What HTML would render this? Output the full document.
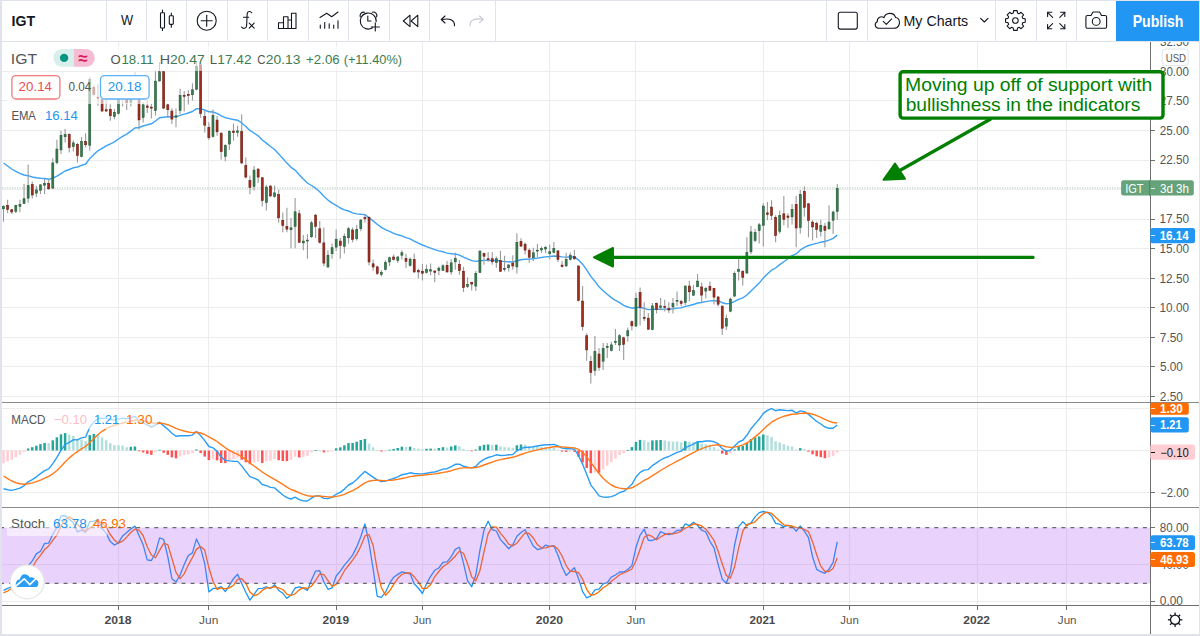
<!DOCTYPE html>
<html><head><meta charset="utf-8"><title>IGT chart</title>
<style>
html,body{margin:0;padding:0;background:#e0e3eb;}
body{width:1200px;height:636px;overflow:hidden;position:relative;font-family:"Liberation Sans",Arial,sans-serif;}
svg{position:absolute;left:0;top:0;}
text{font-family:"Liberation Sans",Arial,sans-serif;}
</style></head><body>
<svg width="1200" height="636" viewBox="0 0 1200 636">
<rect x="0" y="0" width="1200" height="636" fill="#e0e3eb"/>
<rect x="2" y="1" width="1197" height="633" fill="#ffffff"/>

<g shape-rendering="crispEdges">
<line x1="118.5" y1="41" x2="118.5" y2="605" stroke="#ececec" stroke-width="1"/>
<line x1="208.5" y1="41" x2="208.5" y2="605" stroke="#ececec" stroke-width="1"/>
<line x1="336.5" y1="41" x2="336.5" y2="605" stroke="#ececec" stroke-width="1"/>
<line x1="422.5" y1="41" x2="422.5" y2="605" stroke="#ececec" stroke-width="1"/>
<line x1="549.5" y1="41" x2="549.5" y2="605" stroke="#ececec" stroke-width="1"/>
<line x1="635.5" y1="41" x2="635.5" y2="605" stroke="#ececec" stroke-width="1"/>
<line x1="763.5" y1="41" x2="763.5" y2="605" stroke="#ececec" stroke-width="1"/>
<line x1="849.5" y1="41" x2="849.5" y2="605" stroke="#ececec" stroke-width="1"/>
<line x1="977.5" y1="41" x2="977.5" y2="605" stroke="#ececec" stroke-width="1"/>
<line x1="1066.5" y1="41" x2="1066.5" y2="605" stroke="#ececec" stroke-width="1"/>
<line x1="2" y1="41.5" x2="1149" y2="41.5" stroke="#ececec" stroke-width="1"/>
<line x1="2" y1="71.5" x2="1149" y2="71.5" stroke="#ececec" stroke-width="1"/>
<line x1="2" y1="100.5" x2="1149" y2="100.5" stroke="#ececec" stroke-width="1"/>
<line x1="2" y1="130.5" x2="1149" y2="130.5" stroke="#ececec" stroke-width="1"/>
<line x1="2" y1="160.5" x2="1149" y2="160.5" stroke="#ececec" stroke-width="1"/>
<line x1="2" y1="189.5" x2="1149" y2="189.5" stroke="#ececec" stroke-width="1"/>
<line x1="2" y1="219.5" x2="1149" y2="219.5" stroke="#ececec" stroke-width="1"/>
<line x1="2" y1="248.5" x2="1149" y2="248.5" stroke="#ececec" stroke-width="1"/>
<line x1="2" y1="278.5" x2="1149" y2="278.5" stroke="#ececec" stroke-width="1"/>
<line x1="2" y1="307.5" x2="1149" y2="307.5" stroke="#ececec" stroke-width="1"/>
<line x1="2" y1="337.5" x2="1149" y2="337.5" stroke="#ececec" stroke-width="1"/>
<line x1="2" y1="366.5" x2="1149" y2="366.5" stroke="#ececec" stroke-width="1"/>
<line x1="2" y1="396.5" x2="1149" y2="396.5" stroke="#ececec" stroke-width="1"/>
<line x1="2" y1="408.5" x2="1149" y2="408.5" stroke="#ececec" stroke-width="1"/>
<line x1="2" y1="450.5" x2="1149" y2="450.5" stroke="#ececec" stroke-width="1"/>
<line x1="2" y1="492.5" x2="1149" y2="492.5" stroke="#ececec" stroke-width="1"/>
<line x1="2" y1="564.5" x2="1149" y2="564.5" stroke="#ececec" stroke-width="1"/>
<line x1="2" y1="601.5" x2="1149" y2="601.5" stroke="#ececec" stroke-width="1"/>
</g>
<line x1="2" y1="188" x2="1122" y2="188" stroke="#5e9c74" stroke-width="1.2" stroke-dasharray="1.2,1.3" opacity="0.55"/>
<polyline points="3.5,163.0 7.6,166.0 11.7,169.0 15.8,171.3 19.9,173.4 24.0,175.0 28.1,175.7 32.3,177.0 36.4,177.8 40.5,178.2 44.6,178.5 48.7,179.2 52.8,178.1 56.9,176.2 61.0,173.6 65.1,171.0 69.2,169.5 73.3,167.8 77.4,167.0 81.5,165.4 85.6,164.0 89.8,158.6 93.9,154.4 98.0,150.8 102.1,148.3 106.2,145.9 110.3,144.0 114.4,141.9 118.5,139.0 122.6,136.3 126.7,134.1 130.8,131.1 134.9,128.0 139.0,127.5 143.1,126.0 147.2,124.8 151.4,123.8 155.5,121.0 159.6,117.8 163.7,117.2 167.8,116.7 171.9,116.9 176.0,116.8 180.1,115.4 184.2,114.2 188.3,113.0 192.4,111.5 196.5,108.6 200.6,108.9 204.7,110.0 208.9,111.8 213.0,112.0 217.1,113.3 221.2,115.8 225.3,117.7 229.4,118.6 233.5,119.5 237.6,120.2 241.7,123.0 245.8,126.5 249.9,130.4 254.0,133.0 258.1,135.8 262.2,140.0 266.4,143.1 270.5,146.5 274.6,149.5 278.7,153.9 282.8,158.5 286.9,163.1 291.0,167.3 295.1,170.1 299.2,174.8 303.3,179.0 307.4,183.0 311.5,185.5 315.6,188.2 319.7,191.7 323.9,196.3 328.0,200.1 332.1,203.1 336.2,205.4 340.3,208.0 344.4,209.9 348.5,211.0 352.6,212.9 356.7,213.9 360.8,214.3 364.9,214.6 369.0,217.7 373.1,220.9 377.2,224.3 381.3,227.4 385.5,229.6 389.6,231.4 393.7,233.3 397.8,234.8 401.9,235.9 406.0,237.6 410.1,238.9 414.2,241.1 418.3,243.1 422.4,245.0 426.5,246.6 430.6,248.1 434.7,249.7 438.8,250.9 443.0,251.8 447.1,253.1 451.2,253.7 455.3,254.0 459.4,255.1 463.5,257.2 467.6,258.9 471.7,260.6 475.8,261.4 479.9,260.7 484.0,260.4 488.1,260.4 492.2,260.5 496.3,260.4 500.5,261.1 504.6,261.6 508.7,261.8 512.8,262.0 516.9,260.8 521.0,259.8 525.1,259.2 529.2,259.1 533.3,258.7 537.4,258.1 541.5,257.5 545.6,256.9 549.7,256.5 553.8,256.0 557.9,256.3 562.1,256.9 566.2,257.1 570.3,256.9 574.4,257.1 578.5,259.9 582.6,264.2 586.7,269.8 590.8,276.4 594.9,281.2 599.0,286.8 603.1,290.8 607.2,294.3 611.3,297.6 615.4,300.4 619.6,302.6 623.7,305.3 627.8,307.0 631.9,308.2 636.0,307.5 640.1,307.5 644.2,308.3 648.3,309.6 652.4,309.4 656.5,309.4 660.6,309.2 664.7,309.1 668.8,309.1 672.9,308.7 677.1,308.1 681.2,307.9 685.3,306.4 689.4,305.5 693.5,304.5 697.6,303.0 701.7,302.5 705.8,301.6 709.9,300.9 714.0,300.6 718.1,300.9 722.2,302.7 726.3,303.7 730.4,303.4 734.6,301.4 738.7,299.3 742.8,297.9 746.9,295.0 751.0,290.9 755.1,287.1 759.2,283.1 763.3,278.1 767.4,274.0 771.5,270.2 775.6,268.0 779.7,264.6 783.8,261.7 787.9,258.8 792.0,255.6 796.2,253.9 800.3,250.0 804.4,247.3 808.5,245.5 812.6,244.4 816.7,243.4 820.8,242.2 824.9,241.5 829.0,240.2 833.1,238.4 837.2,235.1" fill="none" stroke="#3ea2f5" stroke-width="1.4" stroke-linejoin="round"/>
<g>
<line x1="3.50" y1="205.3" x2="3.50" y2="221.7" stroke="#9a9a9a" stroke-width="1.1"/>
<line x1="7.61" y1="199.7" x2="7.61" y2="212.9" stroke="#9a9a9a" stroke-width="1.1"/>
<line x1="11.72" y1="209.0" x2="11.72" y2="213.9" stroke="#9a9a9a" stroke-width="1.1"/>
<line x1="15.82" y1="204.7" x2="15.82" y2="212.9" stroke="#9a9a9a" stroke-width="1.1"/>
<line x1="19.93" y1="199.7" x2="19.93" y2="212.3" stroke="#9a9a9a" stroke-width="1.1"/>
<line x1="24.04" y1="184.0" x2="24.04" y2="204.0" stroke="#9a9a9a" stroke-width="1.1"/>
<line x1="28.15" y1="164.5" x2="28.15" y2="202.8" stroke="#9a9a9a" stroke-width="1.1"/>
<line x1="32.25" y1="181.4" x2="32.25" y2="198.4" stroke="#9a9a9a" stroke-width="1.1"/>
<line x1="36.36" y1="185.8" x2="36.36" y2="197.2" stroke="#9a9a9a" stroke-width="1.1"/>
<line x1="40.47" y1="184.0" x2="40.47" y2="194.0" stroke="#9a9a9a" stroke-width="1.1"/>
<line x1="44.57" y1="178.9" x2="44.57" y2="194.0" stroke="#9a9a9a" stroke-width="1.1"/>
<line x1="48.68" y1="179.2" x2="48.68" y2="190.0" stroke="#9a9a9a" stroke-width="1.1"/>
<line x1="52.79" y1="158.2" x2="52.79" y2="189.0" stroke="#9a9a9a" stroke-width="1.1"/>
<line x1="56.89" y1="139.8" x2="56.89" y2="164.3" stroke="#9a9a9a" stroke-width="1.1"/>
<line x1="61.00" y1="130.8" x2="61.00" y2="154.0" stroke="#9a9a9a" stroke-width="1.1"/>
<line x1="65.11" y1="129.0" x2="65.11" y2="142.6" stroke="#9a9a9a" stroke-width="1.1"/>
<line x1="69.22" y1="133.2" x2="69.22" y2="152.5" stroke="#9a9a9a" stroke-width="1.1"/>
<line x1="73.32" y1="140.3" x2="73.32" y2="151.6" stroke="#9a9a9a" stroke-width="1.1"/>
<line x1="77.43" y1="143.1" x2="77.43" y2="162.5" stroke="#9a9a9a" stroke-width="1.1"/>
<line x1="81.54" y1="137.0" x2="81.54" y2="157.3" stroke="#9a9a9a" stroke-width="1.1"/>
<line x1="85.64" y1="133.2" x2="85.64" y2="147.4" stroke="#9a9a9a" stroke-width="1.1"/>
<line x1="89.75" y1="77.0" x2="89.75" y2="150.7" stroke="#9a9a9a" stroke-width="1.1"/>
<line x1="93.86" y1="84.8" x2="93.86" y2="96.4" stroke="#9a9a9a" stroke-width="1.1"/>
<line x1="97.97" y1="84.0" x2="97.97" y2="105.8" stroke="#9a9a9a" stroke-width="1.1"/>
<line x1="102.07" y1="98.7" x2="102.07" y2="112.1" stroke="#9a9a9a" stroke-width="1.1"/>
<line x1="106.18" y1="100.3" x2="106.18" y2="112.1" stroke="#9a9a9a" stroke-width="1.1"/>
<line x1="110.29" y1="104.2" x2="110.29" y2="120.8" stroke="#9a9a9a" stroke-width="1.1"/>
<line x1="114.39" y1="109.0" x2="114.39" y2="119.2" stroke="#9a9a9a" stroke-width="1.1"/>
<line x1="118.50" y1="96.5" x2="118.50" y2="114.5" stroke="#9a9a9a" stroke-width="1.1"/>
<line x1="122.61" y1="95.0" x2="122.61" y2="106.6" stroke="#9a9a9a" stroke-width="1.1"/>
<line x1="126.71" y1="94.0" x2="126.71" y2="110.0" stroke="#9a9a9a" stroke-width="1.1"/>
<line x1="130.82" y1="86.0" x2="130.82" y2="106.6" stroke="#9a9a9a" stroke-width="1.1"/>
<line x1="134.93" y1="72.0" x2="134.93" y2="89.0" stroke="#9a9a9a" stroke-width="1.1"/>
<line x1="139.03" y1="83.0" x2="139.03" y2="129.6" stroke="#9a9a9a" stroke-width="1.1"/>
<line x1="143.14" y1="102.0" x2="143.14" y2="122.5" stroke="#9a9a9a" stroke-width="1.1"/>
<line x1="147.25" y1="99.7" x2="147.25" y2="113.1" stroke="#9a9a9a" stroke-width="1.1"/>
<line x1="151.36" y1="103.7" x2="151.36" y2="118.6" stroke="#9a9a9a" stroke-width="1.1"/>
<line x1="155.46" y1="71.4" x2="155.46" y2="115.5" stroke="#9a9a9a" stroke-width="1.1"/>
<line x1="159.57" y1="62.0" x2="159.57" y2="81.7" stroke="#9a9a9a" stroke-width="1.1"/>
<line x1="163.68" y1="70.7" x2="163.68" y2="109.2" stroke="#9a9a9a" stroke-width="1.1"/>
<line x1="167.78" y1="103.7" x2="167.78" y2="117.8" stroke="#9a9a9a" stroke-width="1.1"/>
<line x1="171.89" y1="108.4" x2="171.89" y2="124.1" stroke="#9a9a9a" stroke-width="1.1"/>
<line x1="176.00" y1="108.4" x2="176.00" y2="127.3" stroke="#9a9a9a" stroke-width="1.1"/>
<line x1="180.11" y1="88.7" x2="180.11" y2="113.9" stroke="#9a9a9a" stroke-width="1.1"/>
<line x1="184.21" y1="91.1" x2="184.21" y2="111.5" stroke="#9a9a9a" stroke-width="1.1"/>
<line x1="188.32" y1="90.3" x2="188.32" y2="104.5" stroke="#9a9a9a" stroke-width="1.1"/>
<line x1="192.43" y1="83.2" x2="192.43" y2="100.5" stroke="#9a9a9a" stroke-width="1.1"/>
<line x1="196.53" y1="62.0" x2="196.53" y2="90.3" stroke="#9a9a9a" stroke-width="1.1"/>
<line x1="200.64" y1="64.4" x2="200.64" y2="117.8" stroke="#9a9a9a" stroke-width="1.1"/>
<line x1="204.75" y1="111.0" x2="204.75" y2="132.5" stroke="#9a9a9a" stroke-width="1.1"/>
<line x1="208.85" y1="122.2" x2="208.85" y2="140.0" stroke="#9a9a9a" stroke-width="1.1"/>
<line x1="212.96" y1="109.4" x2="212.96" y2="137.7" stroke="#9a9a9a" stroke-width="1.1"/>
<line x1="217.07" y1="116.0" x2="217.07" y2="135.8" stroke="#9a9a9a" stroke-width="1.1"/>
<line x1="221.18" y1="132.1" x2="221.18" y2="159.4" stroke="#9a9a9a" stroke-width="1.1"/>
<line x1="225.28" y1="144.3" x2="225.28" y2="161.3" stroke="#9a9a9a" stroke-width="1.1"/>
<line x1="229.39" y1="130.2" x2="229.39" y2="150.0" stroke="#9a9a9a" stroke-width="1.1"/>
<line x1="233.50" y1="123.6" x2="233.50" y2="140.6" stroke="#9a9a9a" stroke-width="1.1"/>
<line x1="237.60" y1="125.5" x2="237.60" y2="136.8" stroke="#9a9a9a" stroke-width="1.1"/>
<line x1="241.71" y1="114.2" x2="241.71" y2="164.2" stroke="#9a9a9a" stroke-width="1.1"/>
<line x1="245.82" y1="157.5" x2="245.82" y2="178.3" stroke="#9a9a9a" stroke-width="1.1"/>
<line x1="249.92" y1="175.5" x2="249.92" y2="194.3" stroke="#9a9a9a" stroke-width="1.1"/>
<line x1="254.03" y1="166.0" x2="254.03" y2="190.6" stroke="#9a9a9a" stroke-width="1.1"/>
<line x1="258.14" y1="167.9" x2="258.14" y2="183.0" stroke="#9a9a9a" stroke-width="1.1"/>
<line x1="262.25" y1="177.4" x2="262.25" y2="206.6" stroke="#9a9a9a" stroke-width="1.1"/>
<line x1="266.35" y1="184.9" x2="266.35" y2="210.4" stroke="#9a9a9a" stroke-width="1.1"/>
<line x1="270.46" y1="184.9" x2="270.46" y2="197.2" stroke="#9a9a9a" stroke-width="1.1"/>
<line x1="274.57" y1="185.5" x2="274.57" y2="197.8" stroke="#9a9a9a" stroke-width="1.1"/>
<line x1="278.67" y1="189.8" x2="278.67" y2="222.8" stroke="#9a9a9a" stroke-width="1.1"/>
<line x1="282.78" y1="212.5" x2="282.78" y2="232.3" stroke="#9a9a9a" stroke-width="1.1"/>
<line x1="286.89" y1="207.7" x2="286.89" y2="232.3" stroke="#9a9a9a" stroke-width="1.1"/>
<line x1="290.99" y1="218.1" x2="290.99" y2="248.3" stroke="#9a9a9a" stroke-width="1.1"/>
<line x1="295.10" y1="197.9" x2="295.10" y2="248.3" stroke="#9a9a9a" stroke-width="1.1"/>
<line x1="299.21" y1="210.0" x2="299.21" y2="242.6" stroke="#9a9a9a" stroke-width="1.1"/>
<line x1="303.31" y1="235.1" x2="303.31" y2="250.2" stroke="#9a9a9a" stroke-width="1.1"/>
<line x1="307.42" y1="234.2" x2="307.42" y2="258.7" stroke="#9a9a9a" stroke-width="1.1"/>
<line x1="311.53" y1="220.9" x2="311.53" y2="237.9" stroke="#9a9a9a" stroke-width="1.1"/>
<line x1="315.64" y1="213.8" x2="315.64" y2="237.9" stroke="#9a9a9a" stroke-width="1.1"/>
<line x1="319.74" y1="220.9" x2="319.74" y2="243.6" stroke="#9a9a9a" stroke-width="1.1"/>
<line x1="323.85" y1="227.5" x2="323.85" y2="266.2" stroke="#9a9a9a" stroke-width="1.1"/>
<line x1="327.96" y1="250.2" x2="327.96" y2="268.1" stroke="#9a9a9a" stroke-width="1.1"/>
<line x1="332.06" y1="243.6" x2="332.06" y2="258.7" stroke="#9a9a9a" stroke-width="1.1"/>
<line x1="336.17" y1="229.4" x2="336.17" y2="251.1" stroke="#9a9a9a" stroke-width="1.1"/>
<line x1="340.28" y1="237.9" x2="340.28" y2="258.7" stroke="#9a9a9a" stroke-width="1.1"/>
<line x1="344.38" y1="233.6" x2="344.38" y2="253.4" stroke="#9a9a9a" stroke-width="1.1"/>
<line x1="348.49" y1="227.1" x2="348.49" y2="243.7" stroke="#9a9a9a" stroke-width="1.1"/>
<line x1="352.60" y1="227.6" x2="352.60" y2="242.2" stroke="#9a9a9a" stroke-width="1.1"/>
<line x1="356.71" y1="224.8" x2="356.71" y2="240.4" stroke="#9a9a9a" stroke-width="1.1"/>
<line x1="360.81" y1="219.1" x2="360.81" y2="231.2" stroke="#9a9a9a" stroke-width="1.1"/>
<line x1="364.92" y1="214.2" x2="364.92" y2="222.4" stroke="#9a9a9a" stroke-width="1.1"/>
<line x1="369.03" y1="216.3" x2="369.03" y2="265.4" stroke="#9a9a9a" stroke-width="1.1"/>
<line x1="373.13" y1="259.5" x2="373.13" y2="270.8" stroke="#9a9a9a" stroke-width="1.1"/>
<line x1="377.24" y1="265.4" x2="377.24" y2="275.1" stroke="#9a9a9a" stroke-width="1.1"/>
<line x1="381.35" y1="270.1" x2="381.35" y2="276.5" stroke="#9a9a9a" stroke-width="1.1"/>
<line x1="385.46" y1="260.2" x2="385.46" y2="270.5" stroke="#9a9a9a" stroke-width="1.1"/>
<line x1="389.56" y1="256.7" x2="389.56" y2="265.9" stroke="#9a9a9a" stroke-width="1.1"/>
<line x1="393.67" y1="254.5" x2="393.67" y2="260.6" stroke="#9a9a9a" stroke-width="1.1"/>
<line x1="397.78" y1="256.0" x2="397.78" y2="263.0" stroke="#9a9a9a" stroke-width="1.1"/>
<line x1="401.88" y1="250.3" x2="401.88" y2="259.5" stroke="#9a9a9a" stroke-width="1.1"/>
<line x1="405.99" y1="253.8" x2="405.99" y2="268.0" stroke="#9a9a9a" stroke-width="1.1"/>
<line x1="410.10" y1="257.4" x2="410.10" y2="266.6" stroke="#9a9a9a" stroke-width="1.1"/>
<line x1="414.20" y1="253.5" x2="414.20" y2="273.0" stroke="#9a9a9a" stroke-width="1.1"/>
<line x1="418.31" y1="268.5" x2="418.31" y2="278.5" stroke="#9a9a9a" stroke-width="1.1"/>
<line x1="422.42" y1="264.0" x2="422.42" y2="280.4" stroke="#9a9a9a" stroke-width="1.1"/>
<line x1="426.53" y1="264.7" x2="426.53" y2="273.5" stroke="#9a9a9a" stroke-width="1.1"/>
<line x1="430.63" y1="263.4" x2="430.63" y2="275.3" stroke="#9a9a9a" stroke-width="1.1"/>
<line x1="434.74" y1="270.3" x2="434.74" y2="282.3" stroke="#9a9a9a" stroke-width="1.1"/>
<line x1="438.85" y1="266.5" x2="438.85" y2="275.3" stroke="#9a9a9a" stroke-width="1.1"/>
<line x1="442.95" y1="264.3" x2="442.95" y2="270.9" stroke="#9a9a9a" stroke-width="1.1"/>
<line x1="447.06" y1="260.9" x2="447.06" y2="272.8" stroke="#9a9a9a" stroke-width="1.1"/>
<line x1="451.17" y1="259.2" x2="451.17" y2="274.7" stroke="#9a9a9a" stroke-width="1.1"/>
<line x1="455.27" y1="252.7" x2="455.27" y2="269.7" stroke="#9a9a9a" stroke-width="1.1"/>
<line x1="459.38" y1="260.0" x2="459.38" y2="274.7" stroke="#9a9a9a" stroke-width="1.1"/>
<line x1="463.49" y1="266.8" x2="463.49" y2="292.0" stroke="#9a9a9a" stroke-width="1.1"/>
<line x1="467.60" y1="277.2" x2="467.60" y2="287.9" stroke="#9a9a9a" stroke-width="1.1"/>
<line x1="471.70" y1="281.6" x2="471.70" y2="290.4" stroke="#9a9a9a" stroke-width="1.1"/>
<line x1="475.81" y1="270.9" x2="475.81" y2="291.0" stroke="#9a9a9a" stroke-width="1.1"/>
<line x1="479.92" y1="250.2" x2="479.92" y2="273.1" stroke="#9a9a9a" stroke-width="1.1"/>
<line x1="484.02" y1="252.7" x2="484.02" y2="264.7" stroke="#9a9a9a" stroke-width="1.1"/>
<line x1="488.13" y1="252.1" x2="488.13" y2="262.1" stroke="#9a9a9a" stroke-width="1.1"/>
<line x1="492.24" y1="252.1" x2="492.24" y2="264.7" stroke="#9a9a9a" stroke-width="1.1"/>
<line x1="496.34" y1="256.5" x2="496.34" y2="267.8" stroke="#9a9a9a" stroke-width="1.1"/>
<line x1="500.45" y1="250.8" x2="500.45" y2="271.6" stroke="#9a9a9a" stroke-width="1.1"/>
<line x1="504.56" y1="255.8" x2="504.56" y2="271.6" stroke="#9a9a9a" stroke-width="1.1"/>
<line x1="508.67" y1="264.0" x2="508.67" y2="271.6" stroke="#9a9a9a" stroke-width="1.1"/>
<line x1="512.77" y1="255.2" x2="512.77" y2="269.7" stroke="#9a9a9a" stroke-width="1.1"/>
<line x1="516.88" y1="233.2" x2="516.88" y2="273.5" stroke="#9a9a9a" stroke-width="1.1"/>
<line x1="520.99" y1="238.2" x2="520.99" y2="247.0" stroke="#9a9a9a" stroke-width="1.1"/>
<line x1="525.09" y1="242.6" x2="525.09" y2="254.6" stroke="#9a9a9a" stroke-width="1.1"/>
<line x1="529.20" y1="248.3" x2="529.20" y2="262.8" stroke="#9a9a9a" stroke-width="1.1"/>
<line x1="533.31" y1="247.7" x2="533.31" y2="260.9" stroke="#9a9a9a" stroke-width="1.1"/>
<line x1="537.41" y1="243.9" x2="537.41" y2="257.1" stroke="#9a9a9a" stroke-width="1.1"/>
<line x1="541.52" y1="246.4" x2="541.52" y2="253.0" stroke="#9a9a9a" stroke-width="1.1"/>
<line x1="545.63" y1="245.8" x2="545.63" y2="253.0" stroke="#9a9a9a" stroke-width="1.1"/>
<line x1="549.74" y1="244.5" x2="549.74" y2="259.6" stroke="#9a9a9a" stroke-width="1.1"/>
<line x1="553.84" y1="242.0" x2="553.84" y2="253.3" stroke="#9a9a9a" stroke-width="1.1"/>
<line x1="557.95" y1="249.9" x2="557.95" y2="261.9" stroke="#9a9a9a" stroke-width="1.1"/>
<line x1="562.06" y1="260.9" x2="562.06" y2="267.6" stroke="#9a9a9a" stroke-width="1.1"/>
<line x1="566.16" y1="252.7" x2="566.16" y2="266.9" stroke="#9a9a9a" stroke-width="1.1"/>
<line x1="570.27" y1="252.4" x2="570.27" y2="260.5" stroke="#9a9a9a" stroke-width="1.1"/>
<line x1="574.38" y1="249.9" x2="574.38" y2="259.8" stroke="#9a9a9a" stroke-width="1.1"/>
<line x1="578.48" y1="265.5" x2="578.48" y2="301.5" stroke="#9a9a9a" stroke-width="1.1"/>
<line x1="582.59" y1="286.0" x2="582.59" y2="330.4" stroke="#9a9a9a" stroke-width="1.1"/>
<line x1="586.70" y1="333.2" x2="586.70" y2="360.8" stroke="#9a9a9a" stroke-width="1.1"/>
<line x1="590.81" y1="355.9" x2="590.81" y2="383.5" stroke="#9a9a9a" stroke-width="1.1"/>
<line x1="594.91" y1="336.1" x2="594.91" y2="375.7" stroke="#9a9a9a" stroke-width="1.1"/>
<line x1="599.02" y1="348.1" x2="599.02" y2="370.7" stroke="#9a9a9a" stroke-width="1.1"/>
<line x1="603.13" y1="343.1" x2="603.13" y2="370.0" stroke="#9a9a9a" stroke-width="1.1"/>
<line x1="607.23" y1="343.1" x2="607.23" y2="358.0" stroke="#9a9a9a" stroke-width="1.1"/>
<line x1="611.34" y1="341.7" x2="611.34" y2="351.6" stroke="#9a9a9a" stroke-width="1.1"/>
<line x1="615.45" y1="329.0" x2="615.45" y2="345.0" stroke="#9a9a9a" stroke-width="1.1"/>
<line x1="619.55" y1="334.0" x2="619.55" y2="350.9" stroke="#9a9a9a" stroke-width="1.1"/>
<line x1="623.66" y1="336.8" x2="623.66" y2="360.1" stroke="#9a9a9a" stroke-width="1.1"/>
<line x1="627.77" y1="327.6" x2="627.77" y2="341.7" stroke="#9a9a9a" stroke-width="1.1"/>
<line x1="631.88" y1="320.4" x2="631.88" y2="330.5" stroke="#9a9a9a" stroke-width="1.1"/>
<line x1="635.98" y1="292.7" x2="635.98" y2="326.7" stroke="#9a9a9a" stroke-width="1.1"/>
<line x1="640.09" y1="287.5" x2="640.09" y2="325.4" stroke="#9a9a9a" stroke-width="1.1"/>
<line x1="644.20" y1="302.2" x2="644.20" y2="321.0" stroke="#9a9a9a" stroke-width="1.1"/>
<line x1="648.30" y1="313.1" x2="648.30" y2="329.8" stroke="#9a9a9a" stroke-width="1.1"/>
<line x1="652.41" y1="303.0" x2="652.41" y2="330.2" stroke="#9a9a9a" stroke-width="1.1"/>
<line x1="656.52" y1="302.5" x2="656.52" y2="313.5" stroke="#9a9a9a" stroke-width="1.1"/>
<line x1="660.62" y1="298.0" x2="660.62" y2="310.3" stroke="#9a9a9a" stroke-width="1.1"/>
<line x1="664.73" y1="299.7" x2="664.73" y2="311.6" stroke="#9a9a9a" stroke-width="1.1"/>
<line x1="668.84" y1="302.2" x2="668.84" y2="312.9" stroke="#9a9a9a" stroke-width="1.1"/>
<line x1="672.95" y1="298.0" x2="672.95" y2="313.5" stroke="#9a9a9a" stroke-width="1.1"/>
<line x1="677.05" y1="291.5" x2="677.05" y2="305.9" stroke="#9a9a9a" stroke-width="1.1"/>
<line x1="681.16" y1="299.7" x2="681.16" y2="306.6" stroke="#9a9a9a" stroke-width="1.1"/>
<line x1="685.27" y1="285.2" x2="685.27" y2="305.1" stroke="#9a9a9a" stroke-width="1.1"/>
<line x1="689.37" y1="280.8" x2="689.37" y2="300.9" stroke="#9a9a9a" stroke-width="1.1"/>
<line x1="693.48" y1="284.9" x2="693.48" y2="295.9" stroke="#9a9a9a" stroke-width="1.1"/>
<line x1="697.59" y1="274.1" x2="697.59" y2="287.1" stroke="#9a9a9a" stroke-width="1.1"/>
<line x1="701.69" y1="282.4" x2="701.69" y2="302.4" stroke="#9a9a9a" stroke-width="1.1"/>
<line x1="705.80" y1="286.9" x2="705.80" y2="298.6" stroke="#9a9a9a" stroke-width="1.1"/>
<line x1="709.91" y1="281.6" x2="709.91" y2="290.8" stroke="#9a9a9a" stroke-width="1.1"/>
<line x1="714.01" y1="287.9" x2="714.01" y2="304.5" stroke="#9a9a9a" stroke-width="1.1"/>
<line x1="718.12" y1="296.0" x2="718.12" y2="306.6" stroke="#9a9a9a" stroke-width="1.1"/>
<line x1="722.23" y1="305.2" x2="722.23" y2="334.9" stroke="#9a9a9a" stroke-width="1.1"/>
<line x1="726.34" y1="314.4" x2="726.34" y2="329.9" stroke="#9a9a9a" stroke-width="1.1"/>
<line x1="730.44" y1="297.4" x2="730.44" y2="312.2" stroke="#9a9a9a" stroke-width="1.1"/>
<line x1="734.55" y1="271.2" x2="734.55" y2="296.7" stroke="#9a9a9a" stroke-width="1.1"/>
<line x1="738.66" y1="258.5" x2="738.66" y2="280.4" stroke="#9a9a9a" stroke-width="1.1"/>
<line x1="742.76" y1="270.5" x2="742.76" y2="285.4" stroke="#9a9a9a" stroke-width="1.1"/>
<line x1="746.87" y1="237.2" x2="746.87" y2="274.0" stroke="#9a9a9a" stroke-width="1.1"/>
<line x1="750.98" y1="225.9" x2="750.98" y2="254.2" stroke="#9a9a9a" stroke-width="1.1"/>
<line x1="755.09" y1="228.7" x2="755.09" y2="242.2" stroke="#9a9a9a" stroke-width="1.1"/>
<line x1="759.19" y1="223.1" x2="759.19" y2="243.6" stroke="#9a9a9a" stroke-width="1.1"/>
<line x1="763.30" y1="203.3" x2="763.30" y2="246.4" stroke="#9a9a9a" stroke-width="1.1"/>
<line x1="767.41" y1="201.9" x2="767.41" y2="220.3" stroke="#9a9a9a" stroke-width="1.1"/>
<line x1="771.51" y1="200.2" x2="771.51" y2="220.0" stroke="#9a9a9a" stroke-width="1.1"/>
<line x1="775.62" y1="215.3" x2="775.62" y2="242.2" stroke="#9a9a9a" stroke-width="1.1"/>
<line x1="779.73" y1="210.4" x2="779.73" y2="233.7" stroke="#9a9a9a" stroke-width="1.1"/>
<line x1="783.83" y1="195.9" x2="783.83" y2="225.2" stroke="#9a9a9a" stroke-width="1.1"/>
<line x1="787.94" y1="213.2" x2="787.94" y2="228.0" stroke="#9a9a9a" stroke-width="1.1"/>
<line x1="792.05" y1="204.1" x2="792.05" y2="224.6" stroke="#9a9a9a" stroke-width="1.1"/>
<line x1="796.16" y1="196.0" x2="796.16" y2="247.2" stroke="#9a9a9a" stroke-width="1.1"/>
<line x1="800.26" y1="190.0" x2="800.26" y2="233.6" stroke="#9a9a9a" stroke-width="1.1"/>
<line x1="804.37" y1="186.3" x2="804.37" y2="216.6" stroke="#9a9a9a" stroke-width="1.1"/>
<line x1="808.48" y1="202.9" x2="808.48" y2="237.3" stroke="#9a9a9a" stroke-width="1.1"/>
<line x1="812.58" y1="220.3" x2="812.58" y2="240.4" stroke="#9a9a9a" stroke-width="1.1"/>
<line x1="816.69" y1="221.5" x2="816.69" y2="237.9" stroke="#9a9a9a" stroke-width="1.1"/>
<line x1="820.80" y1="219.7" x2="820.80" y2="236.6" stroke="#9a9a9a" stroke-width="1.1"/>
<line x1="824.90" y1="222.8" x2="824.90" y2="247.3" stroke="#9a9a9a" stroke-width="1.1"/>
<line x1="829.01" y1="205.2" x2="829.01" y2="229.7" stroke="#9a9a9a" stroke-width="1.1"/>
<line x1="833.12" y1="210.8" x2="833.12" y2="234.1" stroke="#9a9a9a" stroke-width="1.1"/>
<line x1="837.23" y1="184.1" x2="837.23" y2="219.9" stroke="#9a9a9a" stroke-width="1.1"/>
</g><g>
<rect x="2.50" y="206.3" width="2.00" height="2.5" fill="#3a7b51" stroke="#245a39" stroke-width="0.6"/>
<rect x="6.61" y="205.4" width="2.00" height="4.0" fill="#9f2e1f" stroke="#6e1c12" stroke-width="0.6"/>
<rect x="10.72" y="209.7" width="2.00" height="2.3" fill="#9f2e1f" stroke="#6e1c12" stroke-width="0.6"/>
<rect x="14.82" y="205.4" width="2.00" height="5.9" fill="#3a7b51" stroke="#245a39" stroke-width="0.6"/>
<rect x="18.93" y="204.4" width="2.00" height="1.9" fill="#3a7b51" stroke="#245a39" stroke-width="0.6"/>
<rect x="23.04" y="198.7" width="2.00" height="4.8" fill="#3a7b51" stroke="#245a39" stroke-width="0.6"/>
<rect x="27.15" y="185.5" width="2.00" height="12.6" fill="#3a7b51" stroke="#245a39" stroke-width="0.6"/>
<rect x="31.25" y="184.5" width="2.00" height="10.5" fill="#9f2e1f" stroke="#6e1c12" stroke-width="0.6"/>
<rect x="35.36" y="189.9" width="2.00" height="3.2" fill="#3a7b51" stroke="#245a39" stroke-width="0.6"/>
<rect x="39.47" y="184.9" width="2.00" height="5.3" fill="#3a7b51" stroke="#245a39" stroke-width="0.6"/>
<rect x="43.57" y="183.3" width="2.00" height="1.9" fill="#3a7b51" stroke="#245a39" stroke-width="0.6"/>
<rect x="47.68" y="183.3" width="2.00" height="5.4" fill="#9f2e1f" stroke="#6e1c12" stroke-width="0.6"/>
<rect x="51.79" y="162.9" width="2.00" height="25.2" fill="#3a7b51" stroke="#245a39" stroke-width="0.6"/>
<rect x="55.89" y="149.1" width="2.00" height="13.5" fill="#3a7b51" stroke="#245a39" stroke-width="0.6"/>
<rect x="60.00" y="135.4" width="2.00" height="14.5" fill="#3a7b51" stroke="#245a39" stroke-width="0.6"/>
<rect x="64.11" y="134.5" width="2.00" height="2.2" fill="#3a7b51" stroke="#245a39" stroke-width="0.6"/>
<rect x="68.22" y="134.5" width="2.00" height="13.0" fill="#9f2e1f" stroke="#6e1c12" stroke-width="0.6"/>
<rect x="72.32" y="142.9" width="2.00" height="3.7" fill="#3a7b51" stroke="#245a39" stroke-width="0.6"/>
<rect x="76.43" y="144.3" width="2.00" height="11.2" fill="#9f2e1f" stroke="#6e1c12" stroke-width="0.6"/>
<rect x="80.54" y="141.5" width="2.00" height="15.0" fill="#3a7b51" stroke="#245a39" stroke-width="0.6"/>
<rect x="84.64" y="141.5" width="2.00" height="3.2" fill="#9f2e1f" stroke="#6e1c12" stroke-width="0.6"/>
<rect x="88.75" y="79.3" width="2.00" height="65.9" fill="#3a7b51" stroke="#245a39" stroke-width="0.6"/>
<rect x="92.86" y="87.3" width="2.00" height="7.0" fill="#9f2e1f" stroke="#6e1c12" stroke-width="0.6"/>
<rect x="96.97" y="97.1" width="2.00" height="1.4" fill="#9f2e1f" stroke="#6e1c12" stroke-width="0.6"/>
<rect x="101.07" y="99.6" width="2.00" height="11.4" fill="#9f2e1f" stroke="#6e1c12" stroke-width="0.6"/>
<rect x="105.18" y="109.7" width="2.00" height="1.3" fill="#9f2e1f" stroke="#6e1c12" stroke-width="0.6"/>
<rect x="109.29" y="109.3" width="2.00" height="6.4" fill="#9f2e1f" stroke="#6e1c12" stroke-width="0.6"/>
<rect x="113.39" y="112.4" width="2.00" height="4.1" fill="#3a7b51" stroke="#245a39" stroke-width="0.6"/>
<rect x="117.50" y="97.8" width="2.00" height="15.6" fill="#3a7b51" stroke="#245a39" stroke-width="0.6"/>
<rect x="121.61" y="96.3" width="2.00" height="1.4" fill="#3a7b51" stroke="#245a39" stroke-width="0.6"/>
<rect x="125.71" y="95.3" width="2.00" height="7.5" fill="#9f2e1f" stroke="#6e1c12" stroke-width="0.6"/>
<rect x="129.82" y="87.8" width="2.00" height="14.5" fill="#3a7b51" stroke="#245a39" stroke-width="0.6"/>
<rect x="133.93" y="83.3" width="2.00" height="3.9" fill="#3a7b51" stroke="#245a39" stroke-width="0.6"/>
<rect x="138.03" y="84.3" width="2.00" height="35.6" fill="#9f2e1f" stroke="#6e1c12" stroke-width="0.6"/>
<rect x="142.14" y="104.8" width="2.00" height="12.7" fill="#3a7b51" stroke="#245a39" stroke-width="0.6"/>
<rect x="146.25" y="106.0" width="2.00" height="1.3" fill="#9f2e1f" stroke="#6e1c12" stroke-width="0.6"/>
<rect x="150.36" y="107.1" width="2.00" height="1.0" fill="#9f2e1f" stroke="#6e1c12" stroke-width="0.6"/>
<rect x="154.46" y="81.2" width="2.00" height="29.3" fill="#3a7b51" stroke="#245a39" stroke-width="0.6"/>
<rect x="158.57" y="71.7" width="2.00" height="9.2" fill="#3a7b51" stroke="#245a39" stroke-width="0.6"/>
<rect x="162.68" y="71.7" width="2.00" height="36.4" fill="#9f2e1f" stroke="#6e1c12" stroke-width="0.6"/>
<rect x="166.78" y="104.8" width="2.00" height="4.9" fill="#9f2e1f" stroke="#6e1c12" stroke-width="0.6"/>
<rect x="170.89" y="111.1" width="2.00" height="8.0" fill="#9f2e1f" stroke="#6e1c12" stroke-width="0.6"/>
<rect x="175.00" y="115.8" width="2.00" height="1.3" fill="#3a7b51" stroke="#245a39" stroke-width="0.6"/>
<rect x="179.11" y="95.3" width="2.00" height="15.2" fill="#3a7b51" stroke="#245a39" stroke-width="0.6"/>
<rect x="183.21" y="95.3" width="2.00" height="1.0" fill="#9f2e1f" stroke="#6e1c12" stroke-width="0.6"/>
<rect x="187.32" y="94.5" width="2.00" height="1.0" fill="#9f2e1f" stroke="#6e1c12" stroke-width="0.6"/>
<rect x="191.43" y="89.8" width="2.00" height="4.9" fill="#3a7b51" stroke="#245a39" stroke-width="0.6"/>
<rect x="195.53" y="66.3" width="2.00" height="22.9" fill="#3a7b51" stroke="#245a39" stroke-width="0.6"/>
<rect x="199.64" y="64.7" width="2.00" height="48.9" fill="#9f2e1f" stroke="#6e1c12" stroke-width="0.6"/>
<rect x="203.75" y="116.3" width="2.00" height="8.9" fill="#9f2e1f" stroke="#6e1c12" stroke-width="0.6"/>
<rect x="207.85" y="127.3" width="2.00" height="10.4" fill="#9f2e1f" stroke="#6e1c12" stroke-width="0.6"/>
<rect x="211.96" y="115.4" width="2.00" height="21.1" fill="#3a7b51" stroke="#245a39" stroke-width="0.6"/>
<rect x="216.07" y="120.1" width="2.00" height="11.7" fill="#9f2e1f" stroke="#6e1c12" stroke-width="0.6"/>
<rect x="220.18" y="133.3" width="2.00" height="18.3" fill="#9f2e1f" stroke="#6e1c12" stroke-width="0.6"/>
<rect x="224.28" y="145.6" width="2.00" height="10.7" fill="#3a7b51" stroke="#245a39" stroke-width="0.6"/>
<rect x="228.39" y="131.4" width="2.00" height="12.6" fill="#3a7b51" stroke="#245a39" stroke-width="0.6"/>
<rect x="232.50" y="131.1" width="2.00" height="1.4" fill="#9f2e1f" stroke="#6e1c12" stroke-width="0.6"/>
<rect x="236.60" y="130.9" width="2.00" height="1.4" fill="#3a7b51" stroke="#245a39" stroke-width="0.6"/>
<rect x="240.71" y="131.4" width="2.00" height="31.5" fill="#9f2e1f" stroke="#6e1c12" stroke-width="0.6"/>
<rect x="244.82" y="165.4" width="2.00" height="11.7" fill="#9f2e1f" stroke="#6e1c12" stroke-width="0.6"/>
<rect x="248.92" y="180.5" width="2.00" height="6.9" fill="#9f2e1f" stroke="#6e1c12" stroke-width="0.6"/>
<rect x="253.03" y="170.1" width="2.00" height="16.4" fill="#3a7b51" stroke="#245a39" stroke-width="0.6"/>
<rect x="257.14" y="169.2" width="2.00" height="7.9" fill="#9f2e1f" stroke="#6e1c12" stroke-width="0.6"/>
<rect x="261.25" y="177.7" width="2.00" height="22.9" fill="#9f2e1f" stroke="#6e1c12" stroke-width="0.6"/>
<rect x="265.35" y="187.1" width="2.00" height="15.4" fill="#3a7b51" stroke="#245a39" stroke-width="0.6"/>
<rect x="269.46" y="186.1" width="2.00" height="9.8" fill="#9f2e1f" stroke="#6e1c12" stroke-width="0.6"/>
<rect x="273.57" y="192.9" width="2.00" height="3.6" fill="#3a7b51" stroke="#245a39" stroke-width="0.6"/>
<rect x="277.67" y="194.5" width="2.00" height="23.3" fill="#9f2e1f" stroke="#6e1c12" stroke-width="0.6"/>
<rect x="281.78" y="220.3" width="2.00" height="5.1" fill="#9f2e1f" stroke="#6e1c12" stroke-width="0.6"/>
<rect x="285.89" y="226.5" width="2.00" height="2.6" fill="#9f2e1f" stroke="#6e1c12" stroke-width="0.6"/>
<rect x="289.99" y="227.8" width="2.00" height="1.9" fill="#3a7b51" stroke="#245a39" stroke-width="0.6"/>
<rect x="294.10" y="211.8" width="2.00" height="14.5" fill="#3a7b51" stroke="#245a39" stroke-width="0.6"/>
<rect x="298.21" y="213.7" width="2.00" height="28.6" fill="#9f2e1f" stroke="#6e1c12" stroke-width="0.6"/>
<rect x="302.31" y="241.1" width="2.00" height="1.8" fill="#3a7b51" stroke="#245a39" stroke-width="0.6"/>
<rect x="306.42" y="240.1" width="2.00" height="0.9" fill="#3a7b51" stroke="#245a39" stroke-width="0.6"/>
<rect x="310.53" y="222.8" width="2.00" height="13.9" fill="#3a7b51" stroke="#245a39" stroke-width="0.6"/>
<rect x="314.64" y="215.2" width="2.00" height="11.1" fill="#9f2e1f" stroke="#6e1c12" stroke-width="0.6"/>
<rect x="318.74" y="228.8" width="2.00" height="13.5" fill="#9f2e1f" stroke="#6e1c12" stroke-width="0.6"/>
<rect x="322.85" y="242.9" width="2.00" height="20.2" fill="#9f2e1f" stroke="#6e1c12" stroke-width="0.6"/>
<rect x="326.96" y="255.2" width="2.00" height="11.7" fill="#3a7b51" stroke="#245a39" stroke-width="0.6"/>
<rect x="331.06" y="247.7" width="2.00" height="6.0" fill="#3a7b51" stroke="#245a39" stroke-width="0.6"/>
<rect x="335.17" y="239.2" width="2.00" height="7.9" fill="#3a7b51" stroke="#245a39" stroke-width="0.6"/>
<rect x="339.28" y="241.1" width="2.00" height="4.4" fill="#9f2e1f" stroke="#6e1c12" stroke-width="0.6"/>
<rect x="343.38" y="236.3" width="2.00" height="10.0" fill="#3a7b51" stroke="#245a39" stroke-width="0.6"/>
<rect x="347.49" y="228.7" width="2.00" height="9.0" fill="#3a7b51" stroke="#245a39" stroke-width="0.6"/>
<rect x="351.60" y="230.0" width="2.00" height="9.4" fill="#9f2e1f" stroke="#6e1c12" stroke-width="0.6"/>
<rect x="355.71" y="229.3" width="2.00" height="9.4" fill="#3a7b51" stroke="#245a39" stroke-width="0.6"/>
<rect x="359.81" y="220.1" width="2.00" height="8.6" fill="#3a7b51" stroke="#245a39" stroke-width="0.6"/>
<rect x="363.92" y="217.6" width="2.00" height="1.2" fill="#9f2e1f" stroke="#6e1c12" stroke-width="0.6"/>
<rect x="368.03" y="217.3" width="2.00" height="44.7" fill="#9f2e1f" stroke="#6e1c12" stroke-width="0.6"/>
<rect x="372.13" y="263.8" width="2.00" height="3.2" fill="#9f2e1f" stroke="#6e1c12" stroke-width="0.6"/>
<rect x="376.24" y="266.9" width="2.00" height="6.5" fill="#9f2e1f" stroke="#6e1c12" stroke-width="0.6"/>
<rect x="380.35" y="272.5" width="2.00" height="2.0" fill="#3a7b51" stroke="#245a39" stroke-width="0.6"/>
<rect x="384.46" y="262.6" width="2.00" height="6.8" fill="#3a7b51" stroke="#245a39" stroke-width="0.6"/>
<rect x="388.56" y="257.7" width="2.00" height="4.3" fill="#3a7b51" stroke="#245a39" stroke-width="0.6"/>
<rect x="392.67" y="257.0" width="2.00" height="2.5" fill="#9f2e1f" stroke="#6e1c12" stroke-width="0.6"/>
<rect x="396.78" y="257.0" width="2.00" height="3.6" fill="#3a7b51" stroke="#245a39" stroke-width="0.6"/>
<rect x="400.88" y="252.7" width="2.00" height="2.5" fill="#3a7b51" stroke="#245a39" stroke-width="0.6"/>
<rect x="404.99" y="258.4" width="2.00" height="2.9" fill="#9f2e1f" stroke="#6e1c12" stroke-width="0.6"/>
<rect x="409.10" y="259.1" width="2.00" height="6.5" fill="#3a7b51" stroke="#245a39" stroke-width="0.6"/>
<rect x="413.20" y="259.5" width="2.00" height="12.4" fill="#9f2e1f" stroke="#6e1c12" stroke-width="0.6"/>
<rect x="417.31" y="270.6" width="2.00" height="1.4" fill="#9f2e1f" stroke="#6e1c12" stroke-width="0.6"/>
<rect x="421.42" y="271.2" width="2.00" height="2.0" fill="#9f2e1f" stroke="#6e1c12" stroke-width="0.6"/>
<rect x="425.53" y="269.3" width="2.00" height="3.2" fill="#3a7b51" stroke="#245a39" stroke-width="0.6"/>
<rect x="429.63" y="269.7" width="2.00" height="1.4" fill="#3a7b51" stroke="#245a39" stroke-width="0.6"/>
<rect x="433.74" y="271.0" width="2.00" height="1.3" fill="#9f2e1f" stroke="#6e1c12" stroke-width="0.6"/>
<rect x="437.85" y="268.1" width="2.00" height="2.5" fill="#3a7b51" stroke="#245a39" stroke-width="0.6"/>
<rect x="441.95" y="265.8" width="2.00" height="4.5" fill="#3a7b51" stroke="#245a39" stroke-width="0.6"/>
<rect x="446.06" y="265.3" width="2.00" height="6.6" fill="#9f2e1f" stroke="#6e1c12" stroke-width="0.6"/>
<rect x="450.17" y="262.8" width="2.00" height="9.1" fill="#3a7b51" stroke="#245a39" stroke-width="0.6"/>
<rect x="454.27" y="258.3" width="2.00" height="3.5" fill="#3a7b51" stroke="#245a39" stroke-width="0.6"/>
<rect x="458.38" y="264.3" width="2.00" height="6.3" fill="#9f2e1f" stroke="#6e1c12" stroke-width="0.6"/>
<rect x="462.49" y="271.2" width="2.00" height="16.4" fill="#9f2e1f" stroke="#6e1c12" stroke-width="0.6"/>
<rect x="466.60" y="284.5" width="2.00" height="1.9" fill="#3a7b51" stroke="#245a39" stroke-width="0.6"/>
<rect x="470.70" y="282.6" width="2.00" height="1.5" fill="#9f2e1f" stroke="#6e1c12" stroke-width="0.6"/>
<rect x="474.81" y="273.4" width="2.00" height="12.7" fill="#3a7b51" stroke="#245a39" stroke-width="0.6"/>
<rect x="478.92" y="251.1" width="2.00" height="21.4" fill="#3a7b51" stroke="#245a39" stroke-width="0.6"/>
<rect x="483.02" y="253.6" width="2.00" height="2.6" fill="#9f2e1f" stroke="#6e1c12" stroke-width="0.6"/>
<rect x="487.13" y="258.7" width="2.00" height="1.0" fill="#9f2e1f" stroke="#6e1c12" stroke-width="0.6"/>
<rect x="491.24" y="258.7" width="2.00" height="3.1" fill="#9f2e1f" stroke="#6e1c12" stroke-width="0.6"/>
<rect x="495.34" y="258.7" width="2.00" height="3.8" fill="#3a7b51" stroke="#245a39" stroke-width="0.6"/>
<rect x="499.45" y="260.6" width="2.00" height="10.7" fill="#9f2e1f" stroke="#6e1c12" stroke-width="0.6"/>
<rect x="503.56" y="268.3" width="2.00" height="1.1" fill="#3a7b51" stroke="#245a39" stroke-width="0.6"/>
<rect x="507.67" y="265.0" width="2.00" height="2.7" fill="#3a7b51" stroke="#245a39" stroke-width="0.6"/>
<rect x="511.77" y="263.1" width="2.00" height="2.9" fill="#9f2e1f" stroke="#6e1c12" stroke-width="0.6"/>
<rect x="515.88" y="242.3" width="2.00" height="24.6" fill="#3a7b51" stroke="#245a39" stroke-width="0.6"/>
<rect x="519.99" y="241.4" width="2.00" height="4.7" fill="#9f2e1f" stroke="#6e1c12" stroke-width="0.6"/>
<rect x="524.09" y="244.2" width="2.00" height="5.9" fill="#9f2e1f" stroke="#6e1c12" stroke-width="0.6"/>
<rect x="528.20" y="250.2" width="2.00" height="7.0" fill="#9f2e1f" stroke="#6e1c12" stroke-width="0.6"/>
<rect x="532.31" y="252.8" width="2.00" height="4.9" fill="#3a7b51" stroke="#245a39" stroke-width="0.6"/>
<rect x="536.41" y="250.2" width="2.00" height="0.9" fill="#3a7b51" stroke="#245a39" stroke-width="0.6"/>
<rect x="540.52" y="248.6" width="2.00" height="1.4" fill="#3a7b51" stroke="#245a39" stroke-width="0.6"/>
<rect x="544.63" y="247.6" width="2.00" height="1.4" fill="#3a7b51" stroke="#245a39" stroke-width="0.6"/>
<rect x="548.74" y="251.7" width="2.00" height="2.0" fill="#3a7b51" stroke="#245a39" stroke-width="0.6"/>
<rect x="552.84" y="248.6" width="2.00" height="3.8" fill="#3a7b51" stroke="#245a39" stroke-width="0.6"/>
<rect x="556.95" y="250.9" width="2.00" height="8.6" fill="#9f2e1f" stroke="#6e1c12" stroke-width="0.6"/>
<rect x="561.06" y="265.1" width="2.00" height="1.5" fill="#9f2e1f" stroke="#6e1c12" stroke-width="0.6"/>
<rect x="565.16" y="259.4" width="2.00" height="6.5" fill="#3a7b51" stroke="#245a39" stroke-width="0.6"/>
<rect x="569.27" y="255.2" width="2.00" height="4.3" fill="#3a7b51" stroke="#245a39" stroke-width="0.6"/>
<rect x="573.38" y="256.6" width="2.00" height="2.2" fill="#9f2e1f" stroke="#6e1c12" stroke-width="0.6"/>
<rect x="577.48" y="266.0" width="2.00" height="34.5" fill="#9f2e1f" stroke="#6e1c12" stroke-width="0.6"/>
<rect x="581.59" y="301.1" width="2.00" height="25.5" fill="#9f2e1f" stroke="#6e1c12" stroke-width="0.6"/>
<rect x="585.70" y="335.7" width="2.00" height="14.2" fill="#9f2e1f" stroke="#6e1c12" stroke-width="0.6"/>
<rect x="589.81" y="361.4" width="2.00" height="11.1" fill="#9f2e1f" stroke="#6e1c12" stroke-width="0.6"/>
<rect x="593.91" y="351.5" width="2.00" height="18.9" fill="#3a7b51" stroke="#245a39" stroke-width="0.6"/>
<rect x="598.02" y="354.0" width="2.00" height="13.3" fill="#9f2e1f" stroke="#6e1c12" stroke-width="0.6"/>
<rect x="602.13" y="348.4" width="2.00" height="12.8" fill="#3a7b51" stroke="#245a39" stroke-width="0.6"/>
<rect x="606.23" y="346.3" width="2.00" height="1.2" fill="#3a7b51" stroke="#245a39" stroke-width="0.6"/>
<rect x="610.34" y="344.9" width="2.00" height="5.4" fill="#3a7b51" stroke="#245a39" stroke-width="0.6"/>
<rect x="614.45" y="341.3" width="2.00" height="1.1" fill="#3a7b51" stroke="#245a39" stroke-width="0.6"/>
<rect x="618.55" y="335.7" width="2.00" height="9.3" fill="#3a7b51" stroke="#245a39" stroke-width="0.6"/>
<rect x="622.66" y="337.8" width="2.00" height="6.5" fill="#9f2e1f" stroke="#6e1c12" stroke-width="0.6"/>
<rect x="626.77" y="330.7" width="2.00" height="5.1" fill="#3a7b51" stroke="#245a39" stroke-width="0.6"/>
<rect x="630.88" y="321.7" width="2.00" height="4.1" fill="#9f2e1f" stroke="#6e1c12" stroke-width="0.6"/>
<rect x="634.98" y="298.3" width="2.00" height="27.8" fill="#3a7b51" stroke="#245a39" stroke-width="0.6"/>
<rect x="639.09" y="292.4" width="2.00" height="14.9" fill="#9f2e1f" stroke="#6e1c12" stroke-width="0.6"/>
<rect x="643.20" y="317.3" width="2.00" height="1.3" fill="#9f2e1f" stroke="#6e1c12" stroke-width="0.6"/>
<rect x="647.30" y="318.2" width="2.00" height="11.0" fill="#9f2e1f" stroke="#6e1c12" stroke-width="0.6"/>
<rect x="651.41" y="305.9" width="2.00" height="23.6" fill="#3a7b51" stroke="#245a39" stroke-width="0.6"/>
<rect x="655.52" y="303.3" width="2.00" height="6.1" fill="#9f2e1f" stroke="#6e1c12" stroke-width="0.6"/>
<rect x="659.62" y="305.9" width="2.00" height="1.4" fill="#3a7b51" stroke="#245a39" stroke-width="0.6"/>
<rect x="663.73" y="306.3" width="2.00" height="1.0" fill="#9f2e1f" stroke="#6e1c12" stroke-width="0.6"/>
<rect x="667.84" y="308.6" width="2.00" height="1.4" fill="#9f2e1f" stroke="#6e1c12" stroke-width="0.6"/>
<rect x="671.95" y="303.3" width="2.00" height="3.6" fill="#3a7b51" stroke="#245a39" stroke-width="0.6"/>
<rect x="676.05" y="300.3" width="2.00" height="0.9" fill="#3a7b51" stroke="#245a39" stroke-width="0.6"/>
<rect x="680.16" y="301.6" width="2.00" height="1.9" fill="#9f2e1f" stroke="#6e1c12" stroke-width="0.6"/>
<rect x="684.27" y="286.1" width="2.00" height="16.4" fill="#3a7b51" stroke="#245a39" stroke-width="0.6"/>
<rect x="688.37" y="286.1" width="2.00" height="5.7" fill="#9f2e1f" stroke="#6e1c12" stroke-width="0.6"/>
<rect x="692.48" y="290.5" width="2.00" height="4.7" fill="#3a7b51" stroke="#245a39" stroke-width="0.6"/>
<rect x="696.59" y="281.1" width="2.00" height="5.7" fill="#3a7b51" stroke="#245a39" stroke-width="0.6"/>
<rect x="700.69" y="286.9" width="2.00" height="8.2" fill="#9f2e1f" stroke="#6e1c12" stroke-width="0.6"/>
<rect x="704.80" y="288.4" width="2.00" height="2.7" fill="#3a7b51" stroke="#245a39" stroke-width="0.6"/>
<rect x="708.91" y="286.3" width="2.00" height="3.9" fill="#9f2e1f" stroke="#6e1c12" stroke-width="0.6"/>
<rect x="713.01" y="288.5" width="2.00" height="8.6" fill="#9f2e1f" stroke="#6e1c12" stroke-width="0.6"/>
<rect x="717.12" y="297.0" width="2.00" height="7.2" fill="#9f2e1f" stroke="#6e1c12" stroke-width="0.6"/>
<rect x="721.23" y="306.2" width="2.00" height="22.0" fill="#9f2e1f" stroke="#6e1c12" stroke-width="0.6"/>
<rect x="725.34" y="318.5" width="2.00" height="7.6" fill="#3a7b51" stroke="#245a39" stroke-width="0.6"/>
<rect x="729.44" y="299.1" width="2.00" height="12.1" fill="#3a7b51" stroke="#245a39" stroke-width="0.6"/>
<rect x="733.55" y="273.6" width="2.00" height="22.5" fill="#3a7b51" stroke="#245a39" stroke-width="0.6"/>
<rect x="737.66" y="269.4" width="2.00" height="2.2" fill="#3a7b51" stroke="#245a39" stroke-width="0.6"/>
<rect x="741.76" y="271.2" width="2.00" height="6.1" fill="#9f2e1f" stroke="#6e1c12" stroke-width="0.6"/>
<rect x="745.87" y="252.4" width="2.00" height="20.6" fill="#3a7b51" stroke="#245a39" stroke-width="0.6"/>
<rect x="749.98" y="231.9" width="2.00" height="19.9" fill="#3a7b51" stroke="#245a39" stroke-width="0.6"/>
<rect x="754.09" y="232.6" width="2.00" height="7.9" fill="#3a7b51" stroke="#245a39" stroke-width="0.6"/>
<rect x="758.19" y="224.8" width="2.00" height="5.8" fill="#3a7b51" stroke="#245a39" stroke-width="0.6"/>
<rect x="762.30" y="206.1" width="2.00" height="19.2" fill="#3a7b51" stroke="#245a39" stroke-width="0.6"/>
<rect x="766.41" y="212.9" width="2.00" height="1.4" fill="#9f2e1f" stroke="#6e1c12" stroke-width="0.6"/>
<rect x="770.51" y="207.1" width="2.00" height="8.3" fill="#9f2e1f" stroke="#6e1c12" stroke-width="0.6"/>
<rect x="774.62" y="217.5" width="2.00" height="18.0" fill="#9f2e1f" stroke="#6e1c12" stroke-width="0.6"/>
<rect x="778.73" y="215.6" width="2.00" height="15.7" fill="#3a7b51" stroke="#245a39" stroke-width="0.6"/>
<rect x="782.83" y="213.8" width="2.00" height="5.5" fill="#9f2e1f" stroke="#6e1c12" stroke-width="0.6"/>
<rect x="786.94" y="216.0" width="2.00" height="1.4" fill="#9f2e1f" stroke="#6e1c12" stroke-width="0.6"/>
<rect x="791.05" y="209.3" width="2.00" height="7.6" fill="#3a7b51" stroke="#245a39" stroke-width="0.6"/>
<rect x="795.16" y="204.4" width="2.00" height="23.6" fill="#9f2e1f" stroke="#6e1c12" stroke-width="0.6"/>
<rect x="799.26" y="194.3" width="2.00" height="33.3" fill="#3a7b51" stroke="#245a39" stroke-width="0.6"/>
<rect x="803.37" y="191.3" width="2.00" height="16.0" fill="#9f2e1f" stroke="#6e1c12" stroke-width="0.6"/>
<rect x="807.48" y="203.8" width="2.00" height="16.6" fill="#9f2e1f" stroke="#6e1c12" stroke-width="0.6"/>
<rect x="811.58" y="222.1" width="2.00" height="4.8" fill="#9f2e1f" stroke="#6e1c12" stroke-width="0.6"/>
<rect x="815.69" y="223.3" width="2.00" height="6.1" fill="#9f2e1f" stroke="#6e1c12" stroke-width="0.6"/>
<rect x="819.80" y="225.4" width="2.00" height="5.9" fill="#3a7b51" stroke="#245a39" stroke-width="0.6"/>
<rect x="823.90" y="226.2" width="2.00" height="4.1" fill="#9f2e1f" stroke="#6e1c12" stroke-width="0.6"/>
<rect x="828.01" y="222.1" width="2.00" height="6.7" fill="#3a7b51" stroke="#245a39" stroke-width="0.6"/>
<rect x="832.12" y="212.0" width="2.00" height="8.2" fill="#3a7b51" stroke="#245a39" stroke-width="0.6"/>
<rect x="836.23" y="188.4" width="2.00" height="23.1" fill="#3a7b51" stroke="#245a39" stroke-width="0.6"/>
</g>
<g>
<rect x="2.25" y="450.5" width="2.5" height="12.8" fill="#ffcdd2"/>
<rect x="6.36" y="450.5" width="2.5" height="11.0" fill="#ffcdd2"/>
<rect x="10.47" y="450.5" width="2.5" height="9.3" fill="#ffcdd2"/>
<rect x="14.57" y="450.5" width="2.5" height="6.7" fill="#ffcdd2"/>
<rect x="18.68" y="450.5" width="2.5" height="4.3" fill="#ffcdd2"/>
<rect x="22.79" y="450.5" width="2.5" height="1.6" fill="#ffcdd2"/>
<rect x="26.90" y="448.5" width="2.5" height="2.0" fill="#26a69a"/>
<rect x="31.00" y="447.2" width="2.5" height="3.3" fill="#26a69a"/>
<rect x="35.11" y="445.7" width="2.5" height="4.8" fill="#26a69a"/>
<rect x="39.22" y="444.1" width="2.5" height="6.4" fill="#26a69a"/>
<rect x="43.32" y="442.9" width="2.5" height="7.6" fill="#26a69a"/>
<rect x="47.43" y="443.1" width="2.5" height="7.4" fill="#b2dfdb"/>
<rect x="51.54" y="440.3" width="2.5" height="10.2" fill="#26a69a"/>
<rect x="55.64" y="437.3" width="2.5" height="13.2" fill="#26a69a"/>
<rect x="59.75" y="434.3" width="2.5" height="16.2" fill="#26a69a"/>
<rect x="63.86" y="433.1" width="2.5" height="17.4" fill="#26a69a"/>
<rect x="67.97" y="434.7" width="2.5" height="15.8" fill="#b2dfdb"/>
<rect x="72.07" y="435.8" width="2.5" height="14.7" fill="#b2dfdb"/>
<rect x="76.18" y="438.8" width="2.5" height="11.7" fill="#b2dfdb"/>
<rect x="80.29" y="439.6" width="2.5" height="10.9" fill="#b2dfdb"/>
<rect x="84.39" y="441.1" width="2.5" height="9.4" fill="#b2dfdb"/>
<rect x="88.50" y="435.1" width="2.5" height="15.4" fill="#26a69a"/>
<rect x="92.61" y="433.9" width="2.5" height="16.6" fill="#26a69a"/>
<rect x="96.72" y="434.6" width="2.5" height="15.9" fill="#b2dfdb"/>
<rect x="100.82" y="437.5" width="2.5" height="13.0" fill="#b2dfdb"/>
<rect x="104.93" y="440.2" width="2.5" height="10.3" fill="#b2dfdb"/>
<rect x="109.04" y="443.1" width="2.5" height="7.4" fill="#b2dfdb"/>
<rect x="113.14" y="445.1" width="2.5" height="5.4" fill="#b2dfdb"/>
<rect x="117.25" y="445.2" width="2.5" height="5.3" fill="#b2dfdb"/>
<rect x="121.36" y="445.6" width="2.5" height="4.9" fill="#b2dfdb"/>
<rect x="125.46" y="447.2" width="2.5" height="3.3" fill="#b2dfdb"/>
<rect x="129.57" y="446.8" width="2.5" height="3.7" fill="#26a69a"/>
<rect x="133.68" y="446.5" width="2.5" height="4.0" fill="#26a69a"/>
<rect x="137.78" y="450.5" width="2.5" height="0.8" fill="#ff5252"/>
<rect x="141.89" y="450.5" width="2.5" height="1.9" fill="#ff5252"/>
<rect x="146.00" y="450.5" width="2.5" height="3.3" fill="#ff5252"/>
<rect x="150.11" y="450.5" width="2.5" height="4.3" fill="#ff5252"/>
<rect x="154.21" y="450.5" width="2.5" height="1.8" fill="#ffcdd2"/>
<rect x="158.32" y="449.8" width="2.5" height="0.8" fill="#26a69a"/>
<rect x="162.43" y="450.5" width="2.5" height="2.3" fill="#ff5252"/>
<rect x="166.53" y="450.5" width="2.5" height="4.4" fill="#ff5252"/>
<rect x="170.64" y="450.5" width="2.5" height="6.9" fill="#ff5252"/>
<rect x="174.75" y="450.5" width="2.5" height="7.8" fill="#ff5252"/>
<rect x="178.86" y="450.5" width="2.5" height="5.9" fill="#ffcdd2"/>
<rect x="182.96" y="450.5" width="2.5" height="4.7" fill="#ffcdd2"/>
<rect x="187.07" y="450.5" width="2.5" height="3.8" fill="#ffcdd2"/>
<rect x="191.18" y="450.5" width="2.5" height="2.5" fill="#ffcdd2"/>
<rect x="195.28" y="449.5" width="2.5" height="1.0" fill="#26a69a"/>
<rect x="199.39" y="450.5" width="2.5" height="2.5" fill="#ff5252"/>
<rect x="203.50" y="450.5" width="2.5" height="6.1" fill="#ff5252"/>
<rect x="207.60" y="450.5" width="2.5" height="9.6" fill="#ff5252"/>
<rect x="211.71" y="450.5" width="2.5" height="8.8" fill="#ffcdd2"/>
<rect x="215.82" y="450.5" width="2.5" height="9.8" fill="#ff5252"/>
<rect x="219.93" y="450.5" width="2.5" height="12.4" fill="#ff5252"/>
<rect x="224.03" y="450.5" width="2.5" height="12.6" fill="#ff5252"/>
<rect x="228.14" y="450.5" width="2.5" height="10.5" fill="#ffcdd2"/>
<rect x="232.25" y="450.5" width="2.5" height="8.7" fill="#ffcdd2"/>
<rect x="236.35" y="450.5" width="2.5" height="7.0" fill="#ffcdd2"/>
<rect x="240.46" y="450.5" width="2.5" height="9.2" fill="#ff5252"/>
<rect x="244.57" y="450.5" width="2.5" height="11.7" fill="#ff5252"/>
<rect x="248.67" y="450.5" width="2.5" height="13.7" fill="#ff5252"/>
<rect x="252.78" y="450.5" width="2.5" height="12.1" fill="#ffcdd2"/>
<rect x="256.89" y="450.5" width="2.5" height="11.2" fill="#ffcdd2"/>
<rect x="261.00" y="450.5" width="2.5" height="12.5" fill="#ff5252"/>
<rect x="265.10" y="450.5" width="2.5" height="10.9" fill="#ffcdd2"/>
<rect x="269.21" y="450.5" width="2.5" height="10.2" fill="#ffcdd2"/>
<rect x="273.32" y="450.5" width="2.5" height="8.6" fill="#ffcdd2"/>
<rect x="277.42" y="450.5" width="2.5" height="9.7" fill="#ff5252"/>
<rect x="281.53" y="450.5" width="2.5" height="10.5" fill="#ff5252"/>
<rect x="285.64" y="450.5" width="2.5" height="10.6" fill="#ff5252"/>
<rect x="289.74" y="450.5" width="2.5" height="9.5" fill="#ffcdd2"/>
<rect x="293.85" y="450.5" width="2.5" height="6.2" fill="#ffcdd2"/>
<rect x="297.96" y="450.5" width="2.5" height="7.0" fill="#ff5252"/>
<rect x="302.06" y="450.5" width="2.5" height="6.5" fill="#ffcdd2"/>
<rect x="306.17" y="450.5" width="2.5" height="5.3" fill="#ffcdd2"/>
<rect x="310.28" y="450.5" width="2.5" height="1.9" fill="#ffcdd2"/>
<rect x="314.39" y="450.3" width="2.5" height="0.8" fill="#26a69a"/>
<rect x="318.49" y="450.3" width="2.5" height="0.8" fill="#b2dfdb"/>
<rect x="322.60" y="450.5" width="2.5" height="1.8" fill="#ff5252"/>
<rect x="326.71" y="450.5" width="2.5" height="1.6" fill="#ffcdd2"/>
<rect x="330.81" y="450.5" width="2.5" height="0.8" fill="#ffcdd2"/>
<rect x="334.92" y="448.3" width="2.5" height="2.2" fill="#26a69a"/>
<rect x="339.03" y="447.3" width="2.5" height="3.2" fill="#26a69a"/>
<rect x="343.13" y="445.3" width="2.5" height="5.2" fill="#26a69a"/>
<rect x="347.24" y="443.1" width="2.5" height="7.4" fill="#26a69a"/>
<rect x="351.35" y="443.0" width="2.5" height="7.5" fill="#26a69a"/>
<rect x="355.46" y="441.7" width="2.5" height="8.8" fill="#26a69a"/>
<rect x="359.56" y="440.0" width="2.5" height="10.5" fill="#26a69a"/>
<rect x="363.67" y="439.0" width="2.5" height="11.5" fill="#26a69a"/>
<rect x="367.78" y="443.7" width="2.5" height="6.8" fill="#b2dfdb"/>
<rect x="371.88" y="447.3" width="2.5" height="3.2" fill="#b2dfdb"/>
<rect x="375.99" y="450.1" width="2.5" height="0.8" fill="#b2dfdb"/>
<rect x="380.10" y="450.5" width="2.5" height="1.0" fill="#ff5252"/>
<rect x="384.21" y="450.5" width="2.5" height="0.8" fill="#ffcdd2"/>
<rect x="388.31" y="449.7" width="2.5" height="0.8" fill="#26a69a"/>
<rect x="392.42" y="449.0" width="2.5" height="1.5" fill="#26a69a"/>
<rect x="396.53" y="448.0" width="2.5" height="2.5" fill="#26a69a"/>
<rect x="400.63" y="446.7" width="2.5" height="3.8" fill="#26a69a"/>
<rect x="404.74" y="446.9" width="2.5" height="3.6" fill="#b2dfdb"/>
<rect x="408.85" y="446.7" width="2.5" height="3.8" fill="#26a69a"/>
<rect x="412.95" y="448.0" width="2.5" height="2.5" fill="#b2dfdb"/>
<rect x="417.06" y="448.7" width="2.5" height="1.8" fill="#b2dfdb"/>
<rect x="421.17" y="449.2" width="2.5" height="1.3" fill="#b2dfdb"/>
<rect x="425.28" y="448.8" width="2.5" height="1.7" fill="#26a69a"/>
<rect x="429.38" y="448.6" width="2.5" height="1.9" fill="#26a69a"/>
<rect x="433.49" y="448.6" width="2.5" height="1.9" fill="#b2dfdb"/>
<rect x="437.60" y="448.0" width="2.5" height="2.5" fill="#26a69a"/>
<rect x="441.70" y="447.2" width="2.5" height="3.3" fill="#26a69a"/>
<rect x="445.81" y="447.5" width="2.5" height="3.0" fill="#b2dfdb"/>
<rect x="449.92" y="446.5" width="2.5" height="4.0" fill="#26a69a"/>
<rect x="454.02" y="445.4" width="2.5" height="5.1" fill="#26a69a"/>
<rect x="458.13" y="446.3" width="2.5" height="4.2" fill="#b2dfdb"/>
<rect x="462.24" y="448.9" width="2.5" height="1.6" fill="#b2dfdb"/>
<rect x="466.35" y="450.0" width="2.5" height="0.8" fill="#b2dfdb"/>
<rect x="470.45" y="450.5" width="2.5" height="0.8" fill="#ff5252"/>
<rect x="474.56" y="449.5" width="2.5" height="1.0" fill="#26a69a"/>
<rect x="478.67" y="446.1" width="2.5" height="4.4" fill="#26a69a"/>
<rect x="482.77" y="444.8" width="2.5" height="5.7" fill="#26a69a"/>
<rect x="486.88" y="444.5" width="2.5" height="6.0" fill="#26a69a"/>
<rect x="490.99" y="444.8" width="2.5" height="5.7" fill="#b2dfdb"/>
<rect x="495.09" y="444.7" width="2.5" height="5.8" fill="#26a69a"/>
<rect x="499.20" y="446.4" width="2.5" height="4.1" fill="#b2dfdb"/>
<rect x="503.31" y="447.1" width="2.5" height="3.4" fill="#b2dfdb"/>
<rect x="507.42" y="447.4" width="2.5" height="3.1" fill="#b2dfdb"/>
<rect x="511.52" y="447.8" width="2.5" height="2.7" fill="#b2dfdb"/>
<rect x="515.63" y="445.3" width="2.5" height="5.2" fill="#26a69a"/>
<rect x="519.74" y="444.5" width="2.5" height="6.0" fill="#26a69a"/>
<rect x="523.84" y="444.7" width="2.5" height="5.8" fill="#b2dfdb"/>
<rect x="527.95" y="446.0" width="2.5" height="4.5" fill="#b2dfdb"/>
<rect x="532.06" y="446.4" width="2.5" height="4.1" fill="#b2dfdb"/>
<rect x="536.16" y="446.6" width="2.5" height="3.9" fill="#b2dfdb"/>
<rect x="540.27" y="446.8" width="2.5" height="3.7" fill="#b2dfdb"/>
<rect x="544.38" y="447.0" width="2.5" height="3.5" fill="#b2dfdb"/>
<rect x="548.49" y="447.8" width="2.5" height="2.7" fill="#b2dfdb"/>
<rect x="552.59" y="448.0" width="2.5" height="2.5" fill="#b2dfdb"/>
<rect x="556.70" y="449.7" width="2.5" height="0.8" fill="#b2dfdb"/>
<rect x="560.81" y="450.5" width="2.5" height="1.1" fill="#ff5252"/>
<rect x="564.91" y="450.5" width="2.5" height="1.4" fill="#ff5252"/>
<rect x="569.02" y="450.5" width="2.5" height="1.1" fill="#ffcdd2"/>
<rect x="573.13" y="450.5" width="2.5" height="1.3" fill="#ff5252"/>
<rect x="577.23" y="450.5" width="2.5" height="6.2" fill="#ff5252"/>
<rect x="581.34" y="450.5" width="2.5" height="11.9" fill="#ff5252"/>
<rect x="585.45" y="450.5" width="2.5" height="17.5" fill="#ff5252"/>
<rect x="589.56" y="450.5" width="2.5" height="22.7" fill="#ff5252"/>
<rect x="593.66" y="450.5" width="2.5" height="22.1" fill="#ffcdd2"/>
<rect x="597.77" y="450.5" width="2.5" height="22.3" fill="#ff5252"/>
<rect x="601.88" y="450.5" width="2.5" height="18.8" fill="#ffcdd2"/>
<rect x="605.98" y="450.5" width="2.5" height="15.2" fill="#ffcdd2"/>
<rect x="610.09" y="450.5" width="2.5" height="11.6" fill="#ffcdd2"/>
<rect x="614.20" y="450.5" width="2.5" height="8.1" fill="#ffcdd2"/>
<rect x="618.30" y="450.5" width="2.5" height="4.5" fill="#ffcdd2"/>
<rect x="622.41" y="450.5" width="2.5" height="2.7" fill="#ffcdd2"/>
<rect x="626.52" y="449.9" width="2.5" height="0.8" fill="#26a69a"/>
<rect x="630.62" y="447.1" width="2.5" height="3.4" fill="#26a69a"/>
<rect x="634.73" y="441.9" width="2.5" height="8.6" fill="#26a69a"/>
<rect x="638.84" y="439.9" width="2.5" height="10.6" fill="#26a69a"/>
<rect x="642.95" y="440.2" width="2.5" height="10.3" fill="#b2dfdb"/>
<rect x="647.05" y="441.9" width="2.5" height="8.6" fill="#b2dfdb"/>
<rect x="651.16" y="440.4" width="2.5" height="10.1" fill="#26a69a"/>
<rect x="655.27" y="440.2" width="2.5" height="10.3" fill="#26a69a"/>
<rect x="659.37" y="440.0" width="2.5" height="10.5" fill="#26a69a"/>
<rect x="663.48" y="440.4" width="2.5" height="10.1" fill="#b2dfdb"/>
<rect x="667.59" y="441.3" width="2.5" height="9.2" fill="#b2dfdb"/>
<rect x="671.70" y="441.5" width="2.5" height="9.0" fill="#b2dfdb"/>
<rect x="675.80" y="441.5" width="2.5" height="9.0" fill="#b2dfdb"/>
<rect x="679.91" y="442.4" width="2.5" height="8.1" fill="#b2dfdb"/>
<rect x="684.02" y="441.2" width="2.5" height="9.3" fill="#26a69a"/>
<rect x="688.12" y="441.7" width="2.5" height="8.8" fill="#b2dfdb"/>
<rect x="692.23" y="442.1" width="2.5" height="8.4" fill="#b2dfdb"/>
<rect x="696.34" y="441.8" width="2.5" height="8.7" fill="#26a69a"/>
<rect x="700.44" y="443.7" width="2.5" height="6.8" fill="#b2dfdb"/>
<rect x="704.55" y="444.4" width="2.5" height="6.1" fill="#b2dfdb"/>
<rect x="708.66" y="445.5" width="2.5" height="5.0" fill="#b2dfdb"/>
<rect x="712.76" y="447.3" width="2.5" height="3.2" fill="#b2dfdb"/>
<rect x="716.87" y="449.4" width="2.5" height="1.1" fill="#b2dfdb"/>
<rect x="720.98" y="450.5" width="2.5" height="3.1" fill="#ff5252"/>
<rect x="725.09" y="450.5" width="2.5" height="4.4" fill="#ff5252"/>
<rect x="729.19" y="450.5" width="2.5" height="2.9" fill="#ffcdd2"/>
<rect x="733.30" y="449.3" width="2.5" height="1.2" fill="#26a69a"/>
<rect x="737.41" y="446.4" width="2.5" height="4.1" fill="#26a69a"/>
<rect x="741.51" y="445.8" width="2.5" height="4.7" fill="#26a69a"/>
<rect x="745.62" y="442.8" width="2.5" height="7.7" fill="#26a69a"/>
<rect x="749.73" y="439.1" width="2.5" height="11.4" fill="#26a69a"/>
<rect x="753.84" y="437.5" width="2.5" height="13.0" fill="#26a69a"/>
<rect x="757.94" y="436.4" width="2.5" height="14.1" fill="#26a69a"/>
<rect x="762.05" y="434.5" width="2.5" height="16.0" fill="#26a69a"/>
<rect x="766.16" y="435.3" width="2.5" height="15.2" fill="#b2dfdb"/>
<rect x="770.26" y="437.0" width="2.5" height="13.5" fill="#b2dfdb"/>
<rect x="774.37" y="441.3" width="2.5" height="9.2" fill="#b2dfdb"/>
<rect x="778.48" y="442.4" width="2.5" height="8.1" fill="#b2dfdb"/>
<rect x="782.58" y="444.3" width="2.5" height="6.2" fill="#b2dfdb"/>
<rect x="786.69" y="445.9" width="2.5" height="4.6" fill="#b2dfdb"/>
<rect x="790.80" y="446.5" width="2.5" height="4.0" fill="#b2dfdb"/>
<rect x="794.91" y="449.6" width="2.5" height="0.9" fill="#b2dfdb"/>
<rect x="799.01" y="448.1" width="2.5" height="2.4" fill="#26a69a"/>
<rect x="803.12" y="449.1" width="2.5" height="1.4" fill="#b2dfdb"/>
<rect x="807.23" y="450.5" width="2.5" height="1.1" fill="#ff5252"/>
<rect x="811.33" y="450.5" width="2.5" height="3.8" fill="#ff5252"/>
<rect x="815.44" y="450.5" width="2.5" height="5.8" fill="#ff5252"/>
<rect x="819.55" y="450.5" width="2.5" height="6.6" fill="#ff5252"/>
<rect x="823.65" y="450.5" width="2.5" height="7.7" fill="#ff5252"/>
<rect x="827.76" y="450.5" width="2.5" height="7.2" fill="#ffcdd2"/>
<rect x="831.87" y="450.5" width="2.5" height="5.7" fill="#ffcdd2"/>
<rect x="835.98" y="450.5" width="2.5" height="2.0" fill="#ffcdd2"/>
</g>
<polyline points="3.5,488.7 7.6,489.7 11.7,490.4 15.8,489.4 19.9,488.1 24.0,485.8 28.1,481.8 32.3,479.6 36.4,476.8 40.5,473.6 44.6,470.6 48.7,468.9 52.8,463.6 56.9,457.3 61.0,450.3 65.1,444.7 69.2,442.3 73.3,439.8 77.4,439.9 81.5,437.9 85.6,437.1 89.8,427.2 93.9,421.9 98.0,418.6 102.1,418.3 106.2,418.4 110.3,419.5 114.4,420.1 118.5,418.9 122.6,418.1 126.7,418.8 130.8,417.6 134.9,416.3 139.0,421.0 143.1,422.8 147.2,424.9 151.4,427.0 155.5,425.0 159.6,422.3 163.7,425.9 167.8,429.2 171.9,433.3 176.0,436.2 180.1,435.7 184.2,435.7 188.3,435.8 192.4,435.1 196.5,431.4 200.6,435.5 204.7,440.6 208.9,446.5 213.0,447.8 217.1,451.4 221.2,457.0 225.3,460.4 229.4,460.9 233.5,461.3 237.6,461.4 241.7,465.9 245.8,471.3 249.9,476.7 254.0,478.1 258.1,480.0 262.2,484.5 266.4,485.6 270.5,487.4 274.6,487.9 278.7,491.5 282.8,495.0 286.9,497.7 291.0,499.0 295.1,497.2 299.2,499.7 303.3,500.9 307.4,501.0 311.5,498.1 315.6,495.9 319.7,495.9 323.9,498.4 328.0,498.6 332.1,497.1 336.2,494.2 340.3,492.4 344.4,489.1 348.5,485.0 352.6,483.0 356.7,479.5 360.8,475.2 364.9,471.4 369.0,474.4 373.1,477.1 377.2,479.9 381.3,481.5 385.5,481.1 389.6,479.6 393.7,478.5 397.8,476.9 401.9,474.7 406.0,474.0 410.1,472.8 414.2,473.5 418.3,473.8 422.4,473.9 426.5,473.2 430.6,472.4 434.7,472.0 438.8,470.7 443.0,469.1 447.1,468.7 451.2,466.7 455.3,464.3 459.4,464.2 463.5,466.3 467.6,467.3 471.7,467.9 475.8,466.5 479.9,462.1 484.0,459.3 488.1,457.5 492.2,456.3 496.3,454.8 500.5,455.5 504.6,455.4 508.7,454.8 512.8,454.6 516.9,450.8 521.0,448.5 525.1,447.3 529.2,447.4 533.3,446.8 537.4,446.0 541.5,445.3 545.6,444.7 549.7,444.7 553.8,444.4 557.9,445.9 562.1,448.1 566.2,448.7 570.3,448.6 574.4,449.2 578.5,455.6 582.6,464.3 586.7,474.3 590.8,485.1 594.9,490.1 599.0,495.9 603.1,497.1 607.2,497.2 611.3,496.6 615.4,495.1 619.6,492.5 623.7,491.4 627.8,488.0 631.9,484.3 636.0,477.0 640.1,472.4 644.2,470.1 648.3,469.6 652.4,465.6 656.5,462.9 660.6,460.0 664.7,457.9 668.8,456.5 672.9,454.4 677.1,452.3 681.2,451.1 685.3,447.6 689.4,445.8 693.5,444.2 697.6,441.6 701.7,441.8 705.8,441.0 709.9,440.9 714.0,441.8 718.1,443.7 722.2,448.7 726.3,451.1 730.4,450.3 734.6,445.9 738.7,442.0 742.8,440.2 746.9,435.3 751.0,428.7 755.1,423.9 759.2,419.3 763.3,413.4 767.4,410.4 771.5,408.7 775.6,410.7 779.7,409.8 783.8,410.2 787.9,410.6 792.0,410.2 796.2,413.1 800.3,410.9 804.4,411.6 808.5,414.4 812.6,418.0 816.7,421.5 820.8,424.0 824.9,427.0 829.0,428.3 833.1,428.2 837.2,425.0" fill="none" stroke="#2a9df5" stroke-width="1.4" stroke-linejoin="round"/>
<polyline points="3.5,476.0 7.6,478.7 11.7,481.0 15.8,482.7 19.9,483.8 24.0,484.2 28.1,483.7 32.3,482.9 36.4,481.7 40.5,480.1 44.6,478.2 48.7,476.3 52.8,473.8 56.9,470.5 61.0,466.4 65.1,462.1 69.2,458.1 73.3,454.5 77.4,451.6 81.5,448.8 85.6,446.5 89.8,442.6 93.9,438.5 98.0,434.5 102.1,431.3 106.2,428.7 110.3,426.8 114.4,425.5 118.5,424.2 122.6,423.0 126.7,422.1 130.8,421.2 134.9,420.2 139.0,420.4 143.1,420.9 147.2,421.7 151.4,422.7 155.5,423.2 159.6,423.0 163.7,423.6 167.8,424.7 171.9,426.4 176.0,428.4 180.1,429.8 184.2,431.0 188.3,432.0 192.4,432.6 196.5,432.3 200.6,433.0 204.7,434.5 208.9,436.9 213.0,439.1 217.1,441.5 221.2,444.6 225.3,447.8 229.4,450.4 233.5,452.6 237.6,454.3 241.7,456.6 245.8,459.6 249.9,463.0 254.0,466.0 258.1,468.8 262.2,472.0 266.4,474.7 270.5,477.2 274.6,479.4 278.7,481.8 282.8,484.4 286.9,487.1 291.0,489.5 295.1,491.0 299.2,492.8 303.3,494.4 307.4,495.7 311.5,496.2 315.6,496.1 319.7,496.1 323.9,496.5 328.0,496.9 332.1,497.0 336.2,496.4 340.3,495.6 344.4,494.3 348.5,492.4 352.6,490.6 356.7,488.4 360.8,485.7 364.9,482.9 369.0,481.2 373.1,480.4 377.2,480.3 381.3,480.5 385.5,480.6 389.6,480.4 393.7,480.0 397.8,479.4 401.9,478.5 406.0,477.6 410.1,476.6 414.2,476.0 418.3,475.5 422.4,475.2 426.5,474.8 430.6,474.3 434.7,473.9 438.8,473.2 443.0,472.4 447.1,471.7 451.2,470.7 455.3,469.4 459.4,468.4 463.5,467.9 467.6,467.8 471.7,467.8 475.8,467.6 479.9,466.5 484.0,465.0 488.1,463.5 492.2,462.1 496.3,460.6 500.5,459.6 504.6,458.8 508.7,458.0 512.8,457.3 516.9,456.0 521.0,454.5 525.1,453.1 529.2,451.9 533.3,450.9 537.4,449.9 541.5,449.0 545.6,448.1 549.7,447.5 553.8,446.8 557.9,446.7 562.1,446.9 566.2,447.3 570.3,447.6 574.4,447.9 578.5,449.4 582.6,452.4 586.7,456.8 590.8,462.4 594.9,468.0 599.0,473.5 603.1,478.3 607.2,482.0 611.3,485.0 615.4,487.0 619.6,488.1 623.7,488.8 627.8,488.6 631.9,487.8 636.0,485.6 640.1,483.0 644.2,480.4 648.3,478.3 652.4,475.7 656.5,473.2 660.6,470.5 664.7,468.0 668.8,465.7 672.9,463.5 677.1,461.2 681.2,459.2 685.3,456.9 689.4,454.7 693.5,452.6 697.6,450.4 701.7,448.7 705.8,447.2 709.9,445.9 714.0,445.1 718.1,444.8 722.2,445.6 726.3,446.7 730.4,447.4 734.6,447.1 738.7,446.1 742.8,444.9 746.9,443.0 751.0,440.1 755.1,436.9 759.2,433.4 763.3,429.4 767.4,425.6 771.5,422.2 775.6,419.9 779.7,417.9 783.8,416.3 787.9,415.2 792.0,414.2 796.2,414.0 800.3,413.4 804.4,413.0 808.5,413.3 812.6,414.2 816.7,415.7 820.8,417.3 824.9,419.3 829.0,421.1 833.1,422.5 837.2,423.0" fill="none" stroke="#ff7a1a" stroke-width="1.4" stroke-linejoin="round"/>
<polyline points="3.5,590.4 7.6,588.4 11.7,586.9 15.8,585.9 19.9,582.9 24.0,576.2 28.1,566.1 32.3,560.8 36.4,553.9 40.5,551.2 44.6,543.4 48.7,543.1 52.8,534.3 56.9,527.6 61.0,515.9 65.1,515.6 69.2,519.2 73.3,522.7 77.4,531.9 81.5,530.1 85.6,532.2 89.8,521.6 93.9,521.1 98.0,519.6 102.1,528.6 106.2,533.4 110.3,541.6 114.4,545.0 118.5,542.9 122.6,535.9 126.7,532.6 130.8,529.0 134.9,526.1 139.0,535.6 143.1,544.7 147.2,559.9 151.4,560.5 155.5,552.7 159.6,537.8 163.7,539.5 167.8,556.6 171.9,578.7 176.0,582.0 180.1,575.0 184.2,564.5 188.3,555.5 192.4,552.9 196.5,538.9 200.6,548.1 204.7,563.5 208.9,591.9 213.0,588.4 217.1,588.3 221.2,586.7 225.3,591.6 229.4,585.3 233.5,578.7 237.6,574.2 241.7,583.4 245.8,592.2 249.9,600.1 254.0,594.5 258.1,588.6 262.2,588.3 266.4,586.9 270.5,588.5 274.6,584.6 278.7,590.5 282.8,593.3 286.9,598.3 291.0,594.9 295.1,588.0 299.2,586.9 303.3,588.2 307.4,590.4 311.5,579.9 315.6,571.1 319.7,570.7 323.9,582.0 328.0,589.3 332.1,587.9 336.2,576.0 340.3,571.1 344.4,565.1 348.5,560.4 352.6,555.1 356.7,546.9 360.8,536.8 364.9,523.9 369.0,543.0 373.1,568.8 377.2,596.2 381.3,597.4 385.5,592.2 389.6,583.4 393.7,577.2 397.8,574.4 401.9,571.9 406.0,572.8 410.1,573.8 414.2,583.7 418.3,588.0 422.4,593.5 426.5,583.8 430.6,576.4 434.7,570.3 438.8,568.0 443.0,562.3 447.1,561.9 451.2,556.7 455.3,549.4 459.4,547.2 463.5,563.3 467.6,580.8 471.7,586.7 475.8,575.0 479.9,550.5 484.0,530.0 488.1,521.2 492.2,529.6 496.3,531.0 500.5,539.6 504.6,544.0 508.7,548.7 512.8,544.8 516.9,536.2 521.0,532.5 525.1,529.8 529.2,538.2 533.3,546.0 537.4,549.6 541.5,548.7 545.6,545.1 549.7,546.3 553.8,545.8 557.9,555.0 562.1,567.0 566.2,575.4 570.3,571.6 574.4,567.7 578.5,578.4 582.6,591.6 586.7,597.8 590.8,595.8 594.9,589.9 599.0,589.2 603.1,583.8 607.2,582.6 611.3,577.1 615.4,575.0 619.6,572.0 623.7,572.0 627.8,569.5 631.9,565.6 636.0,547.3 640.1,535.1 644.2,529.3 648.3,540.3 652.4,540.5 656.5,538.7 660.6,531.6 664.7,533.5 668.8,534.6 672.9,533.5 677.1,530.3 681.2,530.1 685.3,523.9 689.4,525.6 693.5,522.2 697.6,525.5 701.7,530.2 705.8,532.0 709.9,541.3 714.0,547.9 718.1,564.2 722.2,579.1 726.3,583.2 730.4,571.9 734.6,545.0 738.7,526.7 742.8,521.8 746.9,525.6 751.0,522.9 755.1,516.9 759.2,512.6 763.3,511.5 767.4,512.6 771.5,515.8 775.6,523.4 779.7,524.2 783.8,526.9 787.9,525.3 792.0,526.3 796.2,531.2 800.3,526.0 804.4,531.2 808.5,537.6 812.6,557.0 816.7,569.4 820.8,571.7 824.9,573.4 829.0,569.3 833.1,562.4 837.2,541.8" fill="none" stroke="#2196f3" stroke-width="1.3" stroke-linejoin="round"/>
<polyline points="3.5,592.9 7.6,591.0 11.7,588.5 15.8,587.0 19.9,585.2 24.0,581.6 28.1,575.0 32.3,567.7 36.4,560.3 40.5,555.3 44.6,549.5 48.7,545.9 52.8,540.3 56.9,535.0 61.0,525.9 65.1,519.7 69.2,516.9 73.3,519.2 77.4,524.6 81.5,528.2 85.6,531.4 89.8,527.9 93.9,524.9 98.0,520.8 102.1,523.1 106.2,527.2 110.3,534.5 114.4,540.0 118.5,543.2 122.6,541.2 126.7,537.1 130.8,532.5 134.9,529.2 139.0,530.2 143.1,535.5 147.2,546.7 151.4,555.0 155.5,557.7 159.6,550.4 163.7,543.4 167.8,544.6 171.9,558.3 176.0,572.4 180.1,578.6 184.2,573.8 188.3,565.0 192.4,557.6 196.5,549.1 200.6,546.6 204.7,550.1 208.9,567.8 213.0,581.2 217.1,589.5 221.2,587.8 225.3,588.9 229.4,587.9 233.5,585.2 237.6,579.4 241.7,578.7 245.8,583.3 249.9,591.9 254.0,595.6 258.1,594.4 262.2,590.5 266.4,587.9 270.5,587.9 274.6,586.6 278.7,587.8 282.8,589.5 286.9,594.1 291.0,595.5 295.1,593.8 299.2,589.9 303.3,587.7 307.4,588.5 311.5,586.2 315.6,580.5 319.7,573.9 323.9,574.6 328.0,580.7 332.1,586.4 336.2,584.4 340.3,578.3 344.4,570.7 348.5,565.5 352.6,560.2 356.7,554.1 360.8,546.3 364.9,535.9 369.0,534.6 373.1,545.3 377.2,569.4 381.3,587.5 385.5,595.3 389.6,591.0 393.7,584.3 397.8,578.3 401.9,574.5 406.0,573.0 410.1,572.8 414.2,576.8 418.3,581.9 422.4,588.4 426.5,588.4 430.6,584.6 434.7,576.8 438.8,571.5 443.0,566.8 447.1,564.0 451.2,560.3 455.3,556.0 459.4,551.1 463.5,553.3 467.6,563.8 471.7,576.9 475.8,580.8 479.9,570.7 484.0,551.8 488.1,533.9 492.2,526.9 496.3,527.2 500.5,533.4 504.6,538.2 508.7,544.1 512.8,545.9 516.9,543.2 521.0,537.8 525.1,532.8 529.2,533.5 533.3,538.0 537.4,544.6 541.5,548.1 545.6,547.8 549.7,546.7 553.8,545.7 557.9,549.0 562.1,556.0 566.2,565.8 570.3,571.3 574.4,571.5 578.5,572.6 582.6,579.2 586.7,589.3 590.8,595.1 594.9,594.5 599.0,591.7 603.1,587.7 607.2,585.2 611.3,581.2 615.4,578.2 619.6,574.7 623.7,573.0 627.8,571.2 631.9,569.0 636.0,560.8 640.1,549.3 644.2,537.2 648.3,534.9 652.4,536.7 656.5,539.8 660.6,537.0 664.7,534.6 668.8,533.3 672.9,533.9 677.1,532.8 681.2,531.3 685.3,528.1 689.4,526.5 693.5,523.9 697.6,524.4 701.7,525.9 705.8,529.2 709.9,534.5 714.0,540.4 718.1,551.1 722.2,563.7 726.3,575.5 730.4,578.1 734.6,566.7 738.7,547.9 742.8,531.2 746.9,524.7 751.0,523.4 755.1,521.8 759.2,517.4 763.3,513.7 767.4,512.2 771.5,513.3 775.6,517.3 779.7,521.1 783.8,524.8 787.9,525.5 792.0,526.2 796.2,527.6 800.3,527.8 804.4,529.5 808.5,531.6 812.6,541.9 816.7,554.7 820.8,566.1 824.9,571.5 829.0,571.5 833.1,568.4 837.2,557.9" fill="none" stroke="#ff6d00" stroke-width="1.3" stroke-linejoin="round"/>
<rect x="2" y="527.5" width="1148" height="56" fill="rgb(167,75,239)" fill-opacity="0.25"/>
<line x1="2" y1="527.6" x2="1149" y2="527.6" stroke="#6a6a6a" stroke-width="1.2" stroke-dasharray="3.9,5.17" stroke-dashoffset="1.85"/>
<line x1="2" y1="583.3" x2="1149" y2="583.3" stroke="#6a6a6a" stroke-width="1.2" stroke-dasharray="3.9,5.17" stroke-dashoffset="1.85"/>
<rect x="7" y="46" width="400" height="25" fill="#ffffff" fill-opacity="0.55"/>
<rect x="7" y="72" width="147" height="32" fill="#ffffff" fill-opacity="0.6"/>
<rect x="7" y="106" width="76" height="20" fill="#ffffff" fill-opacity="0.65"/>
<rect x="7" y="410" width="150" height="19" fill="#ffffff" fill-opacity="0.65"/>
<rect x="7" y="511" width="100" height="25" fill="#ffffff" fill-opacity="0.55"/>
<text x="10.88" y="63.9" font-size="15.5" fill="#555555" textLength="26.26" lengthAdjust="spacingAndGlyphs">IGT</text>
<path d="M62.2,49 H73.9 V66.8 H62.2 A8.9,8.9 0 0 1 62.2,49 Z" fill="#d9efeb"/>
<path d="M73.9,49 H85.9 A8.9,8.9 0 0 1 85.9,66.8 H73.9 Z" fill="#f6bcd3"/>
<circle cx="64.1" cy="57.9" r="4.2" fill="#089484"/>
<text x="83" y="63.5" font-size="17" font-weight="bold" fill="#d81b60" text-anchor="middle">≈</text>
<text x="110.41" y="64.4" font-size="13" fill="#555555" textLength="10.22" lengthAdjust="spacingAndGlyphs">O</text>
<text x="121.51" y="64.4" font-size="13" fill="#3b7c51" textLength="32.20" lengthAdjust="spacingAndGlyphs">18.11</text>
<text x="159.86" y="64.4" font-size="13" fill="#555555" textLength="10.32" lengthAdjust="spacingAndGlyphs">H</text>
<text x="169.90" y="64.4" font-size="13" fill="#3b7c51" textLength="34.83" lengthAdjust="spacingAndGlyphs">20.47</text>
<text x="209.84" y="64.4" font-size="13" fill="#555555" textLength="7.37" lengthAdjust="spacingAndGlyphs">L</text>
<text x="217.38" y="64.4" font-size="13" fill="#3b7c51" textLength="34.14" lengthAdjust="spacingAndGlyphs">17.42</text>
<text x="257.23" y="64.4" font-size="13" fill="#555555" textLength="8.25" lengthAdjust="spacingAndGlyphs">C</text>
<text x="265.81" y="64.4" font-size="13" fill="#3b7c51" textLength="34.65" lengthAdjust="spacingAndGlyphs">20.13</text>
<text x="306.14" y="64.4" font-size="13" fill="#3b7c51" textLength="33.56" lengthAdjust="spacingAndGlyphs">+2.06</text>
<text x="343.63" y="64.4" font-size="13" fill="#3b7c51" textLength="58.47" lengthAdjust="spacingAndGlyphs">(+11.40%)</text>
<rect x="11.9" y="75.6" width="48" height="23.4" rx="4" fill="#fff" stroke="#f07a7d" stroke-width="1.3"/>
<text x="18.63" y="91.4" font-size="13" fill="#ef4d52" textLength="33.40" lengthAdjust="spacingAndGlyphs">20.14</text>
<text x="68.53" y="91.4" font-size="13" fill="#555555" textLength="22.84" lengthAdjust="spacingAndGlyphs">0.04</text>
<rect x="100.5" y="75.6" width="48.6" height="23.4" rx="4" fill="#fff" stroke="#5cb0f6" stroke-width="1.3"/>
<text x="107.83" y="91.4" font-size="13" fill="#2196f3" textLength="33.75" lengthAdjust="spacingAndGlyphs">20.18</text>
<text x="11.39" y="120.2" font-size="13" fill="#555555" textLength="24.53" lengthAdjust="spacingAndGlyphs">EMA</text>
<text x="44.91" y="120.2" font-size="13" fill="#2196f3" textLength="32.91" lengthAdjust="spacingAndGlyphs">16.14</text>
<text x="11.17" y="423.5" font-size="13" fill="#555555" textLength="34.41" lengthAdjust="spacingAndGlyphs">MACD</text>
<text x="53.84" y="423.5" font-size="13" fill="#ffbcc4" textLength="33.18" lengthAdjust="spacingAndGlyphs">−0.10</text>
<text x="94.03" y="423.5" font-size="13" fill="#2196f3" textLength="25.13" lengthAdjust="spacingAndGlyphs">1.21</text>
<text x="125.98" y="423.5" font-size="13" fill="#ff6d00" textLength="26.59" lengthAdjust="spacingAndGlyphs">1.30</text>
<text x="11.10" y="527.8" font-size="13" fill="#555555" textLength="33.99" lengthAdjust="spacingAndGlyphs">Stoch</text>
<text x="53.02" y="527.8" font-size="13" fill="#2196f3" textLength="33.85" lengthAdjust="spacingAndGlyphs">63.78</text>
<text x="92.97" y="527.8" font-size="13" fill="#ff6d00" textLength="32.95" lengthAdjust="spacingAndGlyphs">46.93</text>
<circle cx="27.2" cy="581.9" r="16.9" fill="#ffffff" stroke="#e6e6e6" stroke-width="1.2"/>
<path d="M17.5,587.1 C15.5,587.1 15.3,583 16.5,581.5 C17,580 18.5,579.3 19.8,579.5 C20.5,576 22.5,574.2 24.5,574.2 C27,574.2 28.8,575.5 29.8,577.5 C31.5,576.8 34.5,577.5 35.6,579.5 C37.8,580.3 38.8,582.5 38.2,584.8 C37.8,586.5 36.8,587.1 35.5,587.1 Z" fill="#2a9df4"/>
<path d="M15.8,586.2 L24.2,578.8 L29.8,584.6 L37.5,577.2" fill="none" stroke="#ffffff" stroke-width="1.6" stroke-linejoin="round"/>
<g shape-rendering="crispEdges">
<rect x="2" y="402" width="1197" height="1" fill="#8a8a8a"/>
<rect x="2" y="507" width="1197" height="1" fill="#8a8a8a"/>
<rect x="2" y="605" width="1197" height="1" fill="#6f6f6f"/>
<rect x="1150" y="41" width="1" height="593" fill="#6f6f6f"/>
<rect x="1151" y="41" width="4" height="1" fill="#6f6f6f"/>
<rect x="1151" y="71" width="4" height="1" fill="#6f6f6f"/>
<rect x="1151" y="100" width="4" height="1" fill="#6f6f6f"/>
<rect x="1151" y="130" width="4" height="1" fill="#6f6f6f"/>
<rect x="1151" y="160" width="4" height="1" fill="#6f6f6f"/>
<rect x="1151" y="219" width="4" height="1" fill="#6f6f6f"/>
<rect x="1151" y="248" width="4" height="1" fill="#6f6f6f"/>
<rect x="1151" y="278" width="4" height="1" fill="#6f6f6f"/>
<rect x="1151" y="307" width="4" height="1" fill="#6f6f6f"/>
<rect x="1151" y="337" width="4" height="1" fill="#6f6f6f"/>
<rect x="1151" y="366" width="4" height="1" fill="#6f6f6f"/>
<rect x="1151" y="396" width="4" height="1" fill="#6f6f6f"/>
<rect x="1151" y="407" width="4" height="1" fill="#6f6f6f"/>
<rect x="1151" y="450" width="4" height="1" fill="#6f6f6f"/>
<rect x="1151" y="492" width="4" height="1" fill="#6f6f6f"/>
<rect x="1151" y="527" width="4" height="1" fill="#6f6f6f"/>
<rect x="1151" y="601" width="4" height="1" fill="#6f6f6f"/>
<rect x="118" y="606" width="1" height="4" fill="#6f6f6f"/>
<rect x="208" y="606" width="1" height="4" fill="#6f6f6f"/>
<rect x="336" y="606" width="1" height="4" fill="#6f6f6f"/>
<rect x="422" y="606" width="1" height="4" fill="#6f6f6f"/>
<rect x="549" y="606" width="1" height="4" fill="#6f6f6f"/>
<rect x="635" y="606" width="1" height="4" fill="#6f6f6f"/>
<rect x="763" y="606" width="1" height="4" fill="#6f6f6f"/>
<rect x="849" y="606" width="1" height="4" fill="#6f6f6f"/>
<rect x="977" y="606" width="1" height="4" fill="#6f6f6f"/>
<rect x="1066" y="606" width="1" height="4" fill="#6f6f6f"/>
</g>
<text x="1159.94" y="46.0" font-size="12" fill="#555555" textLength="29.06" lengthAdjust="spacingAndGlyphs">32.50</text>
<text x="1159.94" y="75.6" font-size="12" fill="#555555" textLength="29.06" lengthAdjust="spacingAndGlyphs">30.00</text>
<text x="1159.82" y="105.2" font-size="12" fill="#555555" textLength="29.18" lengthAdjust="spacingAndGlyphs">27.50</text>
<text x="1159.82" y="134.7" font-size="12" fill="#555555" textLength="29.18" lengthAdjust="spacingAndGlyphs">25.00</text>
<text x="1159.82" y="164.3" font-size="12" fill="#555555" textLength="29.18" lengthAdjust="spacingAndGlyphs">22.50</text>
<text x="1159.52" y="223.4" font-size="12" fill="#555555" textLength="29.48" lengthAdjust="spacingAndGlyphs">17.50</text>
<text x="1159.52" y="253.0" font-size="12" fill="#555555" textLength="29.48" lengthAdjust="spacingAndGlyphs">15.00</text>
<text x="1159.52" y="282.6" font-size="12" fill="#555555" textLength="29.48" lengthAdjust="spacingAndGlyphs">12.50</text>
<text x="1159.52" y="312.1" font-size="12" fill="#555555" textLength="29.48" lengthAdjust="spacingAndGlyphs">10.00</text>
<text x="1159.81" y="341.7" font-size="12" fill="#555555" textLength="23.08" lengthAdjust="spacingAndGlyphs">7.50</text>
<text x="1159.93" y="371.2" font-size="12" fill="#555555" textLength="22.96" lengthAdjust="spacingAndGlyphs">5.00</text>
<text x="1159.81" y="400.8" font-size="12" fill="#555555" textLength="23.08" lengthAdjust="spacingAndGlyphs">2.50</text>
<text x="1160.23" y="497.2" font-size="12" fill="#555555" textLength="28.62" lengthAdjust="spacingAndGlyphs">−2.00</text>
<text x="1159.78" y="531.6" font-size="12" fill="#555555" textLength="29.01" lengthAdjust="spacingAndGlyphs">80.00</text>
<text x="1159.82" y="605.4" font-size="12" fill="#555555" textLength="23.17" lengthAdjust="spacingAndGlyphs">0.00</text>
<text x="1160.01" y="569.1" font-size="12" fill="#555555" textLength="28.78" lengthAdjust="spacingAndGlyphs">40.00</text>
<rect x="1162.2" y="49.1" width="26" height="16.5" rx="3" fill="#ffffff" stroke="#e0e3eb" stroke-width="1"/>
<text x="1165.68" y="62" font-size="11.5" fill="#555555" textLength="20.37" lengthAdjust="spacingAndGlyphs">USD</text>
<rect x="1121.1" y="180.3" width="72.7" height="15.3" rx="2.5" fill="#66a37b"/>
<rect x="1149" y="180.3" width="1.2" height="15.3" fill="#4f8a63"/>
<rect x="1151" y="188" width="4" height="1" fill="#e3f0e7"/>
<text x="1125.21" y="192.6" font-size="12" fill="#ffffff" textLength="18.33" lengthAdjust="spacingAndGlyphs">IGT</text>
<text x="1159.93" y="192.6" font-size="12" fill="#ffffff" textLength="29.15" lengthAdjust="spacingAndGlyphs">3d 3h</text>
<rect x="1150.3" y="228" width="44.7" height="15.2" rx="2.5" fill="#2196f3"/>
<text x="1159.64" y="240.1" font-size="12" fill="#ffffff" font-weight="bold" textLength="29.14" lengthAdjust="spacingAndGlyphs">16.14</text>
<rect x="1150.3" y="402.8" width="38.5" height="12" rx="2" fill="#ff6d00"/>
<text x="1160.04" y="413.2" font-size="12" fill="#ffffff" font-weight="bold" textLength="22.85" lengthAdjust="spacingAndGlyphs">1.30</text>
<rect x="1150.3" y="417.3" width="38.5" height="15.2" rx="2.5" fill="#2196f3"/>
<text x="1160.07" y="429.4" font-size="12" fill="#ffffff" font-weight="bold" textLength="21.72" lengthAdjust="spacingAndGlyphs">1.21</text>
<rect x="1150.3" y="444.6" width="44.7" height="15.1" rx="2.5" fill="#ffcdd2"/>
<text x="1160.23" y="456.6" font-size="12" fill="#131722" textLength="28.62" lengthAdjust="spacingAndGlyphs">−0.10</text>
<rect x="1150.3" y="535.2" width="44.7" height="14.7" rx="2.5" fill="#2196f3"/>
<text x="1159.90" y="546.9" font-size="12" fill="#ffffff" font-weight="bold" textLength="28.78" lengthAdjust="spacingAndGlyphs">63.78</text>
<rect x="1150.3" y="552" width="44.7" height="14.9" rx="2.5" fill="#ff6d00"/>
<text x="1160.13" y="563.8" font-size="12" fill="#ffffff" font-weight="bold" textLength="28.60" lengthAdjust="spacingAndGlyphs">46.93</text>
<rect x="1151" y="408" width="4" height="1" fill="#ffffff" opacity="0.8"/>
<rect x="1151" y="425" width="4" height="1" fill="#ffffff" opacity="0.8"/>
<rect x="1151" y="452" width="4" height="1" fill="#ffffff" opacity="0.8"/>
<rect x="1151" y="542" width="4" height="1" fill="#ffffff" opacity="0.8"/>
<rect x="1151" y="559" width="4" height="1" fill="#ffffff" opacity="0.8"/>
<rect x="1151" y="235" width="4" height="1" fill="#ffffff" opacity="0.8"/>
<rect x="1151" y="452" width="4" height="1" fill="#131722"/>
<text x="104.57" y="623.6" font-size="11.5" fill="#4a4a4a" font-weight="bold" textLength="27.04" lengthAdjust="spacingAndGlyphs">2018</text>
<text x="199.07" y="623.6" font-size="11.5" fill="#555555" textLength="19.23" lengthAdjust="spacingAndGlyphs">Jun</text>
<text x="322.58" y="623.6" font-size="11.5" fill="#4a4a4a" font-weight="bold" textLength="26.58" lengthAdjust="spacingAndGlyphs">2019</text>
<text x="413.08" y="623.6" font-size="11.5" fill="#555555" textLength="18.18" lengthAdjust="spacingAndGlyphs">Jun</text>
<text x="535.82" y="623.6" font-size="11.5" fill="#4a4a4a" font-weight="bold" textLength="27.16" lengthAdjust="spacingAndGlyphs">2020</text>
<text x="626.58" y="623.6" font-size="11.5" fill="#555555" textLength="18.71" lengthAdjust="spacingAndGlyphs">Jun</text>
<text x="749.60" y="623.6" font-size="11.5" fill="#4a4a4a" font-weight="bold" textLength="25.69" lengthAdjust="spacingAndGlyphs">2021</text>
<text x="840.33" y="623.6" font-size="11.5" fill="#555555" textLength="18.44" lengthAdjust="spacingAndGlyphs">Jun</text>
<text x="963.33" y="623.6" font-size="11.5" fill="#4a4a4a" font-weight="bold" textLength="26.64" lengthAdjust="spacingAndGlyphs">2022</text>
<text x="1057.83" y="623.6" font-size="11.5" fill="#555555" textLength="18.71" lengthAdjust="spacingAndGlyphs">Jun</text>
<g transform="translate(1175.1,619.8)" fill="none" stroke="#131722" stroke-width="1.3">
<circle r="4.6"/>
<line x1="4.60" y1="0.00" x2="7.20" y2="0.00"/>
<line x1="3.25" y1="3.25" x2="5.09" y2="5.09"/>
<line x1="0.00" y1="4.60" x2="0.00" y2="7.20"/>
<line x1="-3.25" y1="3.25" x2="-5.09" y2="5.09"/>
<line x1="-4.60" y1="0.00" x2="-7.20" y2="0.00"/>
<line x1="-3.25" y1="-3.25" x2="-5.09" y2="-5.09"/>
<line x1="-0.00" y1="-4.60" x2="-0.00" y2="-7.20"/>
<line x1="3.25" y1="-3.25" x2="5.09" y2="-5.09"/>
</g>
<line x1="611" y1="257.4" x2="1033" y2="257.4" stroke="#007f00" stroke-width="3.3" stroke-linecap="round"/>
<path d="M594,257.3 L613,248 L613,266.6 Z" fill="#007f00" stroke="#007f00" stroke-width="2" stroke-linejoin="round"/>
<line x1="990.7" y1="119" x2="898" y2="171.5" stroke="#007f00" stroke-width="3.2" stroke-linecap="round"/>
<path d="M883.5,179.8 L895,163.5 L905,178.8 Z" fill="#007f00" stroke="#007f00" stroke-width="2" stroke-linejoin="round"/>
<rect x="900.1" y="71.7" width="262.9" height="46.4" rx="3" fill="#ffffff" stroke="#007f00" stroke-width="3.4"/>
<text x="905.05" y="90.6" font-size="18" fill="#007f00" textLength="247.34" lengthAdjust="spacingAndGlyphs">Moving up off of support with</text>
<text x="905.65" y="111.2" font-size="18" fill="#007f00" textLength="234.71" lengthAdjust="spacingAndGlyphs">bullishness in the indicators</text>
<rect x="2" y="1" width="1197" height="40" fill="#ffffff"/>
<rect x="2" y="41" width="1197" height="1" fill="#e0e3eb" shape-rendering="crispEdges"/>
<rect x="106" y="1" width="1" height="40" fill="#e0e3eb" shape-rendering="crispEdges"/>
<rect x="146" y="1" width="1" height="40" fill="#e0e3eb" shape-rendering="crispEdges"/>
<rect x="186" y="1" width="1" height="40" fill="#e0e3eb" shape-rendering="crispEdges"/>
<rect x="227" y="1" width="1" height="40" fill="#e0e3eb" shape-rendering="crispEdges"/>
<rect x="267" y="1" width="1" height="40" fill="#e0e3eb" shape-rendering="crispEdges"/>
<rect x="308" y="1" width="1" height="40" fill="#e0e3eb" shape-rendering="crispEdges"/>
<rect x="348" y="1" width="1" height="40" fill="#e0e3eb" shape-rendering="crispEdges"/>
<rect x="389" y="1" width="1" height="40" fill="#e0e3eb" shape-rendering="crispEdges"/>
<rect x="429" y="1" width="1" height="40" fill="#e0e3eb" shape-rendering="crispEdges"/>
<rect x="495" y="1" width="1" height="40" fill="#e0e3eb" shape-rendering="crispEdges"/>
<rect x="826" y="1" width="1" height="40" fill="#e0e3eb" shape-rendering="crispEdges"/>
<rect x="867" y="1" width="1" height="40" fill="#e0e3eb" shape-rendering="crispEdges"/>
<rect x="995" y="1" width="1" height="40" fill="#e0e3eb" shape-rendering="crispEdges"/>
<rect x="1036" y="1" width="1" height="40" fill="#e0e3eb" shape-rendering="crispEdges"/>
<rect x="1076" y="1" width="1" height="40" fill="#e0e3eb" shape-rendering="crispEdges"/>
<rect x="1116" y="1" width="83" height="40" fill="#2196f3"/>
<text x="1132.69" y="27.1" font-size="16.5" fill="#ffffff" font-weight="bold" textLength="50.78" lengthAdjust="spacingAndGlyphs">Publish</text>
<text x="11.58" y="25.9" font-size="15" fill="#131722" font-weight="bold" textLength="23.58" lengthAdjust="spacingAndGlyphs">IGT</text>
<text x="120.94" y="25.4" font-size="15" fill="#131722" textLength="12.11" lengthAdjust="spacingAndGlyphs">W</text>
<g fill="none" stroke="#131722" stroke-width="1.1" stroke-linecap="round" stroke-linejoin="round"><line x1="162.5" y1="10" x2="162.5" y2="30.5"/><rect x="160.5" y="12.7" width="4" height="15.3" rx="0.8" fill="#fff"/><line x1="171.3" y1="13" x2="171.3" y2="27.3"/><rect x="169.3" y="15.7" width="4" height="8.7" rx="0.8" fill="#fff"/></g>
<g fill="none" stroke="#131722" stroke-width="1.1" stroke-linecap="round" stroke-linejoin="round"><circle cx="206.7" cy="20.7" r="9.5"/><line x1="201.2" y1="20.7" x2="212.2" y2="20.7"/><line x1="206.7" y1="15.2" x2="206.7" y2="26.2"/></g>
<g fill="none" stroke="#131722" stroke-width="1.1" stroke-linecap="round" stroke-linejoin="round"><path d="M251.6,12.8 C250.6,10.8 247.5,11 247.2,13.6 L246.6,26 C246.2,28.8 242.8,29 241.5,27"/><line x1="243.5" y1="17.2" x2="248.8" y2="17.2"/><line x1="249.2" y1="23.2" x2="254.2" y2="28.2"/><line x1="254.2" y1="23.2" x2="249.2" y2="28.2"/></g>
<g fill="none" stroke="#131722" stroke-width="1.1" stroke-linecap="round" stroke-linejoin="round"><path d="M278.5,28.5 V22.8 H283.5 V28.5 Z M283.5,28.5 V16.7 H288 V28.5 M288,28.5 V20 H291.5 V28.5 M291.5,28.5 V13.3 H296 V28.5 Z M278.5,28.5 H296"/></g>
<g fill="none" stroke="#131722" stroke-width="1.1" stroke-linecap="round" stroke-linejoin="round"><polyline points="320,17.5 326.7,13.3 331.7,16.7 338,12"/><line x1="320.3" y1="25" x2="320.3" y2="28.3"/><line x1="324.7" y1="22.5" x2="324.7" y2="28.3"/><line x1="329.2" y1="23.7" x2="329.2" y2="28.3"/><line x1="333.7" y1="25" x2="333.7" y2="28.3"/><line x1="338" y1="20.8" x2="338" y2="28.3"/></g>
<g fill="none" stroke="#131722" stroke-width="1.1" stroke-linecap="round" stroke-linejoin="round"><path d="M372.5,27.8 A8,8 0 1 1 376.2,21.5"/><path d="M360.3,17 A3.6,3.6 0 0 1 364.5,12.2"/><path d="M372.2,12.2 A3.6,3.6 0 0 1 376.6,17"/><polyline points="367.8,16 367.8,21 371,21"/><line x1="375.3" y1="22.8" x2="375.3" y2="31"/><line x1="371.2" y1="27" x2="379.4" y2="27"/></g>
<g fill="none" stroke="#131722" stroke-width="1.1" stroke-linecap="round" stroke-linejoin="round"><path d="M410,15.2 L403.3,21 L410,26.7 Z"/><path d="M417.8,15.2 L411.1,21 L417.8,26.7 Z"/></g>
<g fill="none" stroke="#131722" stroke-width="1.1" stroke-linecap="round" stroke-linejoin="round"><path d="M454.5,25.8 C454.8,19.5 449,18 442,19.5"/><polyline points="445,16 441.3,19.5 445,23"/></g>
<g fill="none" stroke="#c3c6ce" stroke-width="1.1" stroke-linecap="round" stroke-linejoin="round"><path d="M470,25.5 C469.7,19.5 475.5,18 482.5,19.3"/><polyline points="479.5,16 483.2,19.3 479.5,22.7"/></g>
<g fill="none" stroke="#131722" stroke-width="1.1" stroke-linecap="round" stroke-linejoin="round"><rect x="838.3" y="12.3" width="19" height="16.8" rx="2"/></g>
<g fill="none" stroke="#131722" stroke-width="1.1" stroke-linecap="round" stroke-linejoin="round"><path d="M879,28.3 C875,28.3 873.8,23.2 877.3,21.7 C877,17.6 881.3,15.5 884,17.7 C885.5,12.5 893.5,11.5 895.6,17.5 C899.8,18 901,24.3 897,27.5 C896,28.2 895,28.3 894,28.3 Z"/><polyline points="883.3,21.4 886.3,24.3 891.7,18.8"/></g>
<text x="903.56" y="25.6" font-size="15" fill="#131722" textLength="64.65" lengthAdjust="spacingAndGlyphs">My Charts</text>
<g fill="none" stroke="#131722" stroke-width="1.1" stroke-linecap="round" stroke-linejoin="round"><polyline points="980.6,18.4 984.3,22 988,18.4"/></g>
<g fill="none" stroke="#131722" stroke-width="1.1" stroke-linecap="round" stroke-linejoin="round">
<path d="M1022.80,18.37 L1025.24,18.71 L1025.24,22.29 L1022.80,22.63 L1022.14,24.23 L1023.62,26.19 L1021.09,28.72 L1019.13,27.24 L1017.53,27.90 L1017.19,30.34 L1013.61,30.34 L1013.27,27.90 L1011.67,27.24 L1009.71,28.72 L1007.18,26.19 L1008.66,24.23 L1008.00,22.63 L1005.56,22.29 L1005.56,18.71 L1008.00,18.37 L1008.66,16.77 L1007.18,14.81 L1009.71,12.28 L1011.67,13.76 L1013.27,13.10 L1013.61,10.66 L1017.19,10.66 L1017.53,13.10 L1019.13,13.76 L1021.09,12.28 L1023.62,14.81 L1022.14,16.77 Z"/>
<circle cx="1015.4" cy="20.5" r="2.8"/></g>
<g fill="none" stroke="#131722" stroke-width="1.1" stroke-linecap="round" stroke-linejoin="round"><polyline points="1047.6,16.5 1047.6,12.3 1051.8,12.3"/><line x1="1047.6" y1="12.3" x2="1052.6" y2="17.3"/><polyline points="1060.6,12.3 1064.8,12.3 1064.8,16.5"/><line x1="1064.8" y1="12.3" x2="1059.8" y2="17.3"/><polyline points="1047.6,24.5 1047.6,28.7 1051.8,28.7"/><line x1="1047.6" y1="28.7" x2="1052.6" y2="23.7"/><polyline points="1060.6,28.7 1064.8,28.7 1064.8,24.5"/><line x1="1064.8" y1="28.7" x2="1059.8" y2="23.7"/></g>
<g fill="none" stroke="#131722" stroke-width="1.1" stroke-linecap="round" stroke-linejoin="round"><path d="M1087.5,15.5 H1091 L1093,12 H1099.5 L1101.5,15.5 H1105 A1.6,1.6 0 0 1 1106.6,17.1 V26.7 A1.6,1.6 0 0 1 1105,28.3 H1087.5 A1.6,1.6 0 0 1 1085.9,26.7 V17.1 A1.6,1.6 0 0 1 1087.5,15.5 Z"/><circle cx="1096.2" cy="21.4" r="3.9"/></g>
<rect x="0" y="0" width="1200" height="1" fill="#e0e3eb"/>
<rect x="0" y="0" width="2" height="636" fill="#e0e3eb"/>
<rect x="0" y="634" width="1200" height="2" fill="#e0e3eb"/>
<rect x="1199" y="0" width="1" height="636" fill="#e0e3eb"/>
</svg></body></html>
